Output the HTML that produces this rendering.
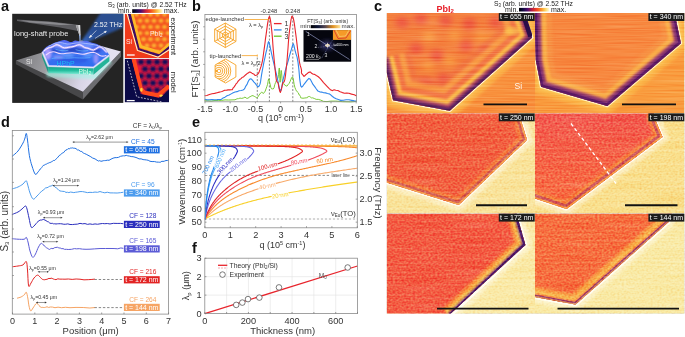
<!DOCTYPE html>
<html><head><meta charset="utf-8"><style>
html,body{margin:0;padding:0;background:#fff;width:685px;height:337px;overflow:hidden}
svg{display:block;will-change:transform;filter:blur(0.3px)}
text{font-family:"Liberation Sans", sans-serif}
</style></head><body>
<svg width="685" height="337" viewBox="0 0 685 337" font-family='"Liberation Sans", sans-serif'><defs>
<linearGradient id="cmap" x1="0" x2="1" y1="0" y2="0">
<stop offset="0" stop-color="#000004"/><stop offset="0.12" stop-color="#0c0a3c"/><stop offset="0.28" stop-color="#4c0c6c"/>
<stop offset="0.45" stop-color="#c8203c"/><stop offset="0.6" stop-color="#f44c20"/><stop offset="0.75" stop-color="#fa9a2c"/>
<stop offset="0.88" stop-color="#fcdc6c"/><stop offset="1" stop-color="#fffce0"/></linearGradient>
<linearGradient id="cmapft" x1="0" x2="1" y1="0" y2="0">
<stop offset="0" stop-color="#000000"/><stop offset="0.25" stop-color="#10183a"/><stop offset="0.5" stop-color="#5a4a50"/>
<stop offset="0.75" stop-color="#e09020"/><stop offset="1" stop-color="#ffe8a0"/></linearGradient>
<linearGradient id="beam" x1="0" y1="1" x2="1" y2="0">
<stop offset="0" stop-color="#4a8cff" stop-opacity="0.9"/><stop offset="0.35" stop-color="#2e5cb8" stop-opacity="0.75"/><stop offset="1" stop-color="#2a4f96" stop-opacity="0.9"/></linearGradient>
<linearGradient id="sitop" x1="0" y1="0" x2="1" y2="1">
<stop offset="0" stop-color="#7e7e82"/><stop offset="0.55" stop-color="#b4b4ba"/><stop offset="0.8" stop-color="#d8d4e4"/><stop offset="1" stop-color="#9a9aa2"/></linearGradient>
<linearGradient id="teal" x1="0" y1="0" x2="0" y2="1">
<stop offset="0" stop-color="#18a88a"/><stop offset="0.6" stop-color="#3cd2b0"/><stop offset="1" stop-color="#a8fce0"/></linearGradient>
<radialGradient id="dome" cx="0.5" cy="0.55" r="0.6">
<stop offset="0" stop-color="#3f78f4"/><stop offset="0.7" stop-color="#2c5ae6"/><stop offset="1" stop-color="#3a50d8"/></radialGradient>
<filter id="blur1" x="-20%" y="-20%" width="140%" height="140%"><feGaussianBlur stdDeviation="1"/></filter>
<filter id="blur05" x="-20%" y="-20%" width="140%" height="140%"><feGaussianBlur stdDeviation="0.5"/></filter>
<filter id="blur2" x="-30%" y="-30%" width="160%" height="160%"><feGaussianBlur stdDeviation="2"/></filter>
<filter id="blur3" x="-30%" y="-30%" width="160%" height="160%"><feGaussianBlur stdDeviation="3"/></filter>
<filter id="noise" x="0" y="0" width="100%" height="100%">
<feTurbulence type="fractalNoise" baseFrequency="0.9 0.35" numOctaves="2" seed="4" result="t"/>
<feColorMatrix in="t" type="matrix" values="0 0 0 0 1  0 0 0 0 0.9  0 0 0 0 0.6  0 0 0 0.9 -0.32" result="n"/>
<feComposite in="n" in2="SourceGraphic" operator="in" result="nn"/>
<feMerge><feMergeNode in="SourceGraphic"/><feMergeNode in="nn"/></feMerge>
</filter>
<filter id="texh" x="0" y="0" width="100%" height="100%" color-interpolation-filters="sRGB">
<feTurbulence type="fractalNoise" baseFrequency="0.02 0.75" numOctaves="2" seed="7" result="n"/>
<feColorMatrix in="n" type="matrix" values="0.5 0 0 0 0.25  0.5 0 0 0 0.25  0.5 0 0 0 0.25  0 0 0 0 1" result="g"/>
<feBlend in="g" in2="SourceGraphic" mode="soft-light" result="b"/>
<feComposite in="b" in2="SourceGraphic" operator="in"/>
</filter>
<filter id="texs" x="0" y="0" width="100%" height="100%" color-interpolation-filters="sRGB">
<feTurbulence type="fractalNoise" baseFrequency="0.45 0.6" numOctaves="1" seed="9" result="n"/>
<feColorMatrix in="n" type="matrix" values="0.3 0 0 0 0.35  1.1 0 0 0 -0.05  0.7 0 0 0 0.15  0 0 0 0 1" result="g"/>
<feBlend in="g" in2="SourceGraphic" mode="soft-light" result="b"/>
<feTurbulence type="fractalNoise" baseFrequency="0.02 0.5" numOctaves="1" seed="3" result="n2"/>
<feColorMatrix in="n2" type="matrix" values="0.5 0 0 0 0.25  0.5 0 0 0 0.25  0.5 0 0 0 0.25  0 0 0 0 1" result="g2"/>
<feBlend in="g2" in2="b" mode="soft-light" result="b2"/>
<feComposite in="b2" in2="SourceGraphic" operator="in"/>
</filter>
<filter id="bl6" x="-10%" y="-10%" width="120%" height="120%"><feGaussianBlur stdDeviation="0.6"/></filter>
<filter id="bl9" x="-10%" y="-10%" width="120%" height="120%"><feGaussianBlur stdDeviation="0.9"/></filter>
<filter id="bl15" x="-10%" y="-10%" width="120%" height="120%"><feGaussianBlur stdDeviation="1.5"/></filter>
<filter id="bl4" x="-30%" y="-30%" width="160%" height="160%"><feGaussianBlur stdDeviation="4"/></filter>
</defs><rect width="685" height="337" fill="#fff"/><rect x="12.20" y="13.80" width="111.10" height="89.10" fill="#242424" /><clipPath id="cpa"><rect x="12.2" y="13.8" width="111.1" height="89.1"/></clipPath><g clip-path="url(#cpa)"><linearGradient id="beamg" gradientUnits="userSpaceOnUse" x1="81" y1="43" x2="116" y2="16"><stop offset="0" stop-color="#3a70d0" stop-opacity="0.95"/><stop offset="0.35" stop-color="#2a56a8" stop-opacity="0.85"/><stop offset="1" stop-color="#2c5294" stop-opacity="0.95"/></linearGradient><polygon points="80.2,43 101.3,12 124,12 124,27.3 83.4,44" fill="url(#beamg)" filter="url(#blur1)"/><polygon points="17,19.6 50,21.5 76,24.6 79.8,25.2 78,31 60,27.4 30,23 17,21" fill="#5c5c60" filter="url(#blur05)"/><polygon points="20,20.2 50,22 74,24.8 60,25 30,22.4" fill="#8a8a8e" filter="url(#blur05)"/><polygon points="75.8,25.2 80.2,25 80.6,34.5 79.6,36" fill="#e2e2e4"/><polygon points="75.8,25.2 78.2,25.2 79.8,35.5 78.6,33" fill="#9a9a9e"/><polygon points="79.2,35 80.6,35 80.3,47.5 79.9,47.5" fill="#9cc0ff" filter="url(#blur05)"/><linearGradient id="slabg" gradientUnits="userSpaceOnUse" x1="20" y1="58" x2="95" y2="88"><stop offset="0" stop-color="#7c7c80"/><stop offset="0.45" stop-color="#a8a8ac"/><stop offset="0.8" stop-color="#d8d4e6"/><stop offset="1" stop-color="#e4e0f0"/></linearGradient><polygon points="15.9,60.5 15.9,64.2 82.9,99.4 82.9,91.7" fill="#474749"/><polygon points="82.9,91.7 82.9,99.4 120.9,56.8 120.9,51.6" fill="#6c6c70"/><polygon points="15.9,60.5 81.6,40.6 120.9,51.6 82.9,91.7" fill="url(#slabg)"/><polygon points="46,72 94,74.5 110,60 112,63 95,79 47,77" fill="#9ef8e6" opacity="0.55" filter="url(#blur1)"/><linearGradient id="tealg" gradientUnits="userSpaceOnUse" x1="0" y1="64" x2="0" y2="76"><stop offset="0" stop-color="#0e8a78"/><stop offset="0.55" stop-color="#26c0a0"/><stop offset="1" stop-color="#b0fff0"/></linearGradient><polygon points="42.2,51.6 48.4,66 48.4,73.2 42.2,57.2" fill="#1a9a86"/><polygon points="48.4,66 93.4,67.5 93.4,74.8 48.4,73.2" fill="url(#tealg)"/><polygon points="93.4,67.5 109.4,55.1 109.4,61.2 93.4,74.8" fill="#22b498"/><linearGradient id="domeg" gradientUnits="userSpaceOnUse" x1="0" y1="40" x2="0" y2="67"><stop offset="0" stop-color="#5466ee"/><stop offset="0.5" stop-color="#3f74f2"/><stop offset="1" stop-color="#2f6cf0"/></linearGradient><path d="M42.2,51.6 C44.5,47.5 48,45.5 50.7,44.7 C53,43.5 55,42 57.1,42 C60,41 62,39.8 64.6,39.9 C68,40.5 70,42.5 72,42 C73.5,41.2 74,40.4 75.3,40.4 C77.5,40.6 79,41.6 80.6,41.5 C83,41.2 85,40.8 87,41 C89.5,41.5 91.5,43 93.4,43.1 C96,43.4 98,44.6 99.8,45.8 C102,46.6 103.5,47.3 104.1,47.9 C106,50 107.5,52 109.4,55.1 L93.4,67.5 L48.4,66 Z" fill="url(#domeg)"/><clipPath id="domec"><path d="M42.2,51.6 C44.5,47.5 48,45.5 50.7,44.7 C53,43.5 55,42 57.1,42 C60,41 62,39.8 64.6,39.9 C68,40.5 70,42.5 72,42 C73.5,41.2 74,40.4 75.3,40.4 C77.5,40.6 79,41.6 80.6,41.5 C83,41.2 85,40.8 87,41 C89.5,41.5 91.5,43 93.4,43.1 C96,43.4 98,44.6 99.8,45.8 C102,46.6 103.5,47.3 104.1,47.9 C106,50 107.5,52 109.4,55.1 L93.4,67.5 L48.4,66 Z"/></clipPath><g clip-path="url(#domec)"><g filter="url(#blur1)"><ellipse cx="62" cy="46" rx="8" ry="3" fill="#7094ff" opacity="0.8"/><ellipse cx="86" cy="45.5" rx="8" ry="3" fill="#7094ff" opacity="0.8"/><ellipse cx="74" cy="50" rx="10" ry="2.2" fill="#1c34b0" opacity="0.7"/><ellipse cx="56" cy="50.5" rx="5" ry="2" fill="#1c34b0" opacity="0.6"/><ellipse cx="96" cy="50.5" rx="5" ry="2" fill="#1c34b0" opacity="0.6"/><ellipse cx="48" cy="54" rx="3.5" ry="6" fill="#d0a8ff" opacity="0.75"/><ellipse cx="96" cy="59" rx="2.5" ry="5" fill="#d0a8ff" opacity="0.6"/><ellipse cx="72" cy="60" rx="16" ry="3.5" fill="#2a58e4" opacity="0.8"/><ellipse cx="68" cy="55.5" rx="6" ry="1.8" fill="#70a8ff" opacity="0.7"/><ellipse cx="88" cy="55" rx="5" ry="1.8" fill="#70a8ff" opacity="0.7"/><ellipse cx="58" cy="57" rx="5" ry="1.6" fill="#c0a8ff" opacity="0.6"/></g><g fill="none" stroke-linecap="round" filter="url(#blur05)"><path d="M44,51 C47,48 49.5,47.4 50.7,47.4 C54,46.5 55,44.7 57.1,44.7 C60,45 62,48 64.6,47.9 C68,47.8 70,46.8 72,46.8 C75,46.5 77,44.7 79.5,44.7 C82,45 84,47.9 86,47.9 C89,48 91,50 93.4,50 C96,49.5 98,46.8 99.8,46.8 C102,47 104,49.5 106.5,52" stroke="#d8b8ff" stroke-width="2.4" opacity="0.6"/><path d="M44,51 C47,48 49.5,47.4 50.7,47.4 C54,46.5 55,44.7 57.1,44.7 C60,45 62,48 64.6,47.9 C68,47.8 70,46.8 72,46.8 C75,46.5 77,44.7 79.5,44.7 C82,45 84,47.9 86,47.9 C89,48 91,50 93.4,50 C96,49.5 98,46.8 99.8,46.8 C102,47 104,49.5 106.5,52" stroke="#fff4ff" stroke-width="1.0"/><path d="M46,55 C50,51.5 52,51.1 55,52 C58,53.2 59.5,53.8 61.4,53.8 C65,53.8 68,52.7 72,52.7 C76,52.7 79,54.3 82.7,54.3 C86,54.3 89,52.2 93.4,52.2 C96,52.5 98,54.5 99.8,55.4 C101,56 103,56.5 106,55.5" stroke="#eed8ff" stroke-width="1.1"/><path d="M49,46 C53,43.5 57,42.6 60,42.6 C63,42.6 66,44.5 70,44 C74,43.3 78,42.4 82,43 C86,43.6 91,43.8 98,45.6" stroke="#b8c8ff" stroke-width="0.8"/><path d="M52,58.5 C58,57 64,58.6 70,58 C76,57.2 82,58.8 90,57.6" stroke="#60b0ff" stroke-width="0.7"/><path d="M56,49.5 C60,50.5 64,51.5 68,50.3 M76,49.8 C80,51 84,51.5 88,50.5" stroke="#70c8ff" stroke-width="0.6"/></g></g><polyline points="42.4,51.8 48.4,66 93.4,67.5 109.2,55.3" fill="none" stroke="#e8d8ff" stroke-width="2.2" opacity="0.7" filter="url(#blur05)"/><polyline points="42.4,51.8 48.4,66 93.4,67.5 109.2,55.3" fill="none" stroke="#f8f4ff" stroke-width="0.8" opacity="0.95"/><text x="56.60" y="65.50" font-size="6.9" fill="#1eb8f4" text-anchor="start" font-weight="normal" >HPhP</text><text x="78.60" y="73.80" font-size="6.7" fill="#d8ffea" text-anchor="start" font-weight="normal" >PbI<tspan font-size="4.5" dy="1">2</tspan></text><text x="26.00" y="63.90" font-size="6.8" fill="#e8e8e8" text-anchor="start" font-weight="normal" >Si</text><text x="14.10" y="36.40" font-size="7.5" fill="#ececec" text-anchor="start" font-weight="normal" >long-shaft probe</text><text x="94.00" y="26.80" font-size="7" fill="#f4f4f4" text-anchor="start" font-weight="normal" >2.52 THz</text><g stroke="#f2f2f2" stroke-width="0.6" fill="#f2f2f2"><line x1="96.3" y1="30.5" x2="90" y2="37"/><polygon points="89.2,37.8 90.6,35.2 91.8,36.4"/><line x1="95" y1="38.4" x2="105.6" y2="31.6"/><polygon points="106.4,31.1 104.2,31.7 105.2,33"/></g></g><clipPath id="cpa1"><rect x="124.6" y="14.0" width="44.4" height="44.3"/></clipPath><clipPath id="cpa1f"><polygon points="127.5,14 138.2,50 158,56.6 169,49 169,14"/></clipPath><g clip-path="url(#cpa1)"><rect x="124.60" y="14.00" width="44.40" height="44.30" fill="#f03a1a" /><g clip-path="url(#cpa1f)"><rect x="124.60" y="14.00" width="44.40" height="44.30" fill="#f2481e" /><g fill="#fcb431" filter="url(#blur1)"><ellipse cx="129.5" cy="14.5" rx="2.6" ry="2.2"/><ellipse cx="136.5" cy="14.5" rx="2.6" ry="2.2"/><ellipse cx="143.5" cy="14.5" rx="2.6" ry="2.2"/><ellipse cx="150.5" cy="14.5" rx="2.6" ry="2.2"/><ellipse cx="157.5" cy="14.5" rx="2.6" ry="2.2"/><ellipse cx="164.5" cy="14.5" rx="2.6" ry="2.2"/><ellipse cx="171.5" cy="14.5" rx="2.6" ry="2.2"/><ellipse cx="133.0" cy="20.7" rx="2.6" ry="2.2"/><ellipse cx="140.0" cy="20.7" rx="2.6" ry="2.2"/><ellipse cx="147.0" cy="20.7" rx="2.6" ry="2.2"/><ellipse cx="154.0" cy="20.7" rx="2.6" ry="2.2"/><ellipse cx="161.0" cy="20.7" rx="2.6" ry="2.2"/><ellipse cx="168.0" cy="20.7" rx="2.6" ry="2.2"/><ellipse cx="175.0" cy="20.7" rx="2.6" ry="2.2"/><ellipse cx="129.5" cy="26.9" rx="2.6" ry="2.2"/><ellipse cx="136.5" cy="26.9" rx="2.6" ry="2.2"/><ellipse cx="143.5" cy="26.9" rx="2.6" ry="2.2"/><ellipse cx="150.5" cy="26.9" rx="2.6" ry="2.2"/><ellipse cx="157.5" cy="26.9" rx="2.6" ry="2.2"/><ellipse cx="164.5" cy="26.9" rx="2.6" ry="2.2"/><ellipse cx="171.5" cy="26.9" rx="2.6" ry="2.2"/><ellipse cx="133.0" cy="33.1" rx="2.6" ry="2.2"/><ellipse cx="140.0" cy="33.1" rx="2.6" ry="2.2"/><ellipse cx="147.0" cy="33.1" rx="2.6" ry="2.2"/><ellipse cx="154.0" cy="33.1" rx="2.6" ry="2.2"/><ellipse cx="161.0" cy="33.1" rx="2.6" ry="2.2"/><ellipse cx="168.0" cy="33.1" rx="2.6" ry="2.2"/><ellipse cx="175.0" cy="33.1" rx="2.6" ry="2.2"/><ellipse cx="129.5" cy="39.3" rx="2.6" ry="2.2"/><ellipse cx="136.5" cy="39.3" rx="2.6" ry="2.2"/><ellipse cx="143.5" cy="39.3" rx="2.6" ry="2.2"/><ellipse cx="150.5" cy="39.3" rx="2.6" ry="2.2"/><ellipse cx="157.5" cy="39.3" rx="2.6" ry="2.2"/><ellipse cx="164.5" cy="39.3" rx="2.6" ry="2.2"/><ellipse cx="171.5" cy="39.3" rx="2.6" ry="2.2"/><ellipse cx="133.0" cy="45.5" rx="2.6" ry="2.2"/><ellipse cx="140.0" cy="45.5" rx="2.6" ry="2.2"/><ellipse cx="147.0" cy="45.5" rx="2.6" ry="2.2"/><ellipse cx="154.0" cy="45.5" rx="2.6" ry="2.2"/><ellipse cx="161.0" cy="45.5" rx="2.6" ry="2.2"/><ellipse cx="168.0" cy="45.5" rx="2.6" ry="2.2"/><ellipse cx="175.0" cy="45.5" rx="2.6" ry="2.2"/><ellipse cx="129.5" cy="51.7" rx="2.6" ry="2.2"/><ellipse cx="136.5" cy="51.7" rx="2.6" ry="2.2"/><ellipse cx="143.5" cy="51.7" rx="2.6" ry="2.2"/><ellipse cx="150.5" cy="51.7" rx="2.6" ry="2.2"/><ellipse cx="157.5" cy="51.7" rx="2.6" ry="2.2"/><ellipse cx="164.5" cy="51.7" rx="2.6" ry="2.2"/><ellipse cx="171.5" cy="51.7" rx="2.6" ry="2.2"/></g><polyline points="131.5,12 140.3,46.4 160,52.5 170,44" fill="none" stroke="#fcb828" stroke-width="3" filter="url(#blur05)"/><polyline points="128.8,12 138.4,49.6 159.5,55.8 170,47" fill="none" stroke="#3c0c62" stroke-width="2.8" filter="url(#blur05)"/></g><polyline points="126.6,12 137.4,50.4 158,57.2 170,49.3" fill="none" stroke="#fff6c8" stroke-width="1.1"/></g><text x="125.90" y="44.30" font-size="6.8" fill="#ffeae4" text-anchor="start" font-weight="normal" >Si</text><text x="149.90" y="36.20" font-size="6.8" fill="#ffeae4" text-anchor="start" font-weight="normal" >PbI<tspan font-size="4.5" dy="1">2</tspan></text><line x1="126.90" y1="55.00" x2="134.70" y2="55.00" stroke="#fff" stroke-width="1.3" /><clipPath id="cpa2"><rect x="124.6" y="58.8" width="44.4" height="43.6"/></clipPath><clipPath id="cpa2f"><polygon points="131.5,58.8 140.7,94.1 160.1,98.1 169,89.5 169,58.8"/></clipPath><g clip-path="url(#cpa2)"><rect x="124.60" y="58.80" width="44.40" height="43.60" fill="#0b0a48" /><g clip-path="url(#cpa2f)"><rect x="124.60" y="58.80" width="44.40" height="43.60" fill="#e4183e" /><g fill="#10105a" filter="url(#blur1)"><ellipse cx="141.0" cy="62.0" rx="3.1" ry="2.8"/><ellipse cx="149.0" cy="62.0" rx="3.1" ry="2.8"/><ellipse cx="157.0" cy="62.0" rx="3.1" ry="2.8"/><ellipse cx="165.0" cy="62.0" rx="3.1" ry="2.8"/><ellipse cx="173.0" cy="62.0" rx="3.1" ry="2.8"/><ellipse cx="145.0" cy="69.0" rx="3.1" ry="2.8"/><ellipse cx="153.0" cy="69.0" rx="3.1" ry="2.8"/><ellipse cx="161.0" cy="69.0" rx="3.1" ry="2.8"/><ellipse cx="169.0" cy="69.0" rx="3.1" ry="2.8"/><ellipse cx="177.0" cy="69.0" rx="3.1" ry="2.8"/><ellipse cx="141.0" cy="76.0" rx="3.1" ry="2.8"/><ellipse cx="149.0" cy="76.0" rx="3.1" ry="2.8"/><ellipse cx="157.0" cy="76.0" rx="3.1" ry="2.8"/><ellipse cx="165.0" cy="76.0" rx="3.1" ry="2.8"/><ellipse cx="173.0" cy="76.0" rx="3.1" ry="2.8"/><ellipse cx="145.0" cy="83.0" rx="3.1" ry="2.8"/><ellipse cx="153.0" cy="83.0" rx="3.1" ry="2.8"/><ellipse cx="161.0" cy="83.0" rx="3.1" ry="2.8"/><ellipse cx="169.0" cy="83.0" rx="3.1" ry="2.8"/><ellipse cx="177.0" cy="83.0" rx="3.1" ry="2.8"/><ellipse cx="141.0" cy="90.0" rx="3.1" ry="2.8"/><ellipse cx="149.0" cy="90.0" rx="3.1" ry="2.8"/><ellipse cx="157.0" cy="90.0" rx="3.1" ry="2.8"/><ellipse cx="165.0" cy="90.0" rx="3.1" ry="2.8"/><ellipse cx="173.0" cy="90.0" rx="3.1" ry="2.8"/><ellipse cx="145.0" cy="97.0" rx="3.1" ry="2.8"/><ellipse cx="153.0" cy="97.0" rx="3.1" ry="2.8"/><ellipse cx="161.0" cy="97.0" rx="3.1" ry="2.8"/><ellipse cx="169.0" cy="97.0" rx="3.1" ry="2.8"/><ellipse cx="177.0" cy="97.0" rx="3.1" ry="2.8"/></g><polyline points="133,57 140.5,88 144,92.5 158,95.5 169,86" fill="none" stroke="#ff4a1c" stroke-width="4.2" filter="url(#blur05)"/><g fill="#ffd040" filter="url(#blur05)"><ellipse cx="141.4" cy="89.8" rx="1.3" ry="2"/><ellipse cx="161.4" cy="95.8" rx="2" ry="1.2"/></g></g><polyline points="127.3,60.7 136.7,96.8 162.8,102.1" fill="none" stroke="#fff" stroke-width="0.7" stroke-dasharray="1.8,1.4"/></g><line x1="126.70" y1="100.60" x2="134.70" y2="100.60" stroke="#fff" stroke-width="1.3" /><text x="0.00" y="0.00" font-size="7.6" fill="#222" text-anchor="middle" font-weight="normal" transform="translate(171.0,36.4) rotate(90)">experiment</text><text x="0.00" y="0.00" font-size="7.7" fill="#222" text-anchor="middle" font-weight="normal" transform="translate(171.0,82.2) rotate(90)">model</text><text x="107.70" y="6.60" font-size="7" fill="#222" text-anchor="start" font-weight="normal" textLength="79" lengthAdjust="spacingAndGlyphs">S<tspan font-size="4.5" dy="1">3</tspan><tspan dy="-1"> (arb. units) @ 2.52 THz</tspan></text><text x="118.00" y="12.70" font-size="7" fill="#222" text-anchor="start" font-weight="normal" >min.</text><rect x="132.20" y="9.20" width="30.50" height="3.70" fill="url(#cmap)" /><text x="164.00" y="12.70" font-size="7" fill="#222" text-anchor="start" font-weight="normal" >max.</text><line x1="203.20" y1="26.80" x2="204.90" y2="26.80" stroke="#777" stroke-width="0.7" /><line x1="203.20" y1="39.20" x2="204.90" y2="39.20" stroke="#777" stroke-width="0.7" /><line x1="203.20" y1="51.80" x2="204.90" y2="51.80" stroke="#777" stroke-width="0.7" /><line x1="203.20" y1="64.40" x2="204.90" y2="64.40" stroke="#777" stroke-width="0.7" /><line x1="203.20" y1="77.20" x2="204.90" y2="77.20" stroke="#777" stroke-width="0.7" /><line x1="203.20" y1="89.80" x2="204.90" y2="89.80" stroke="#777" stroke-width="0.7" /><line x1="205.00" y1="101.80" x2="205.00" y2="103.40" stroke="#777" stroke-width="0.7" /><text x="205.00" y="112.40" font-size="9" fill="#333" text-anchor="middle" font-weight="normal" >-1.5</text><line x1="230.20" y1="101.80" x2="230.20" y2="103.40" stroke="#777" stroke-width="0.7" /><text x="230.20" y="112.40" font-size="9" fill="#333" text-anchor="middle" font-weight="normal" >-1.0</text><line x1="255.40" y1="101.80" x2="255.40" y2="103.40" stroke="#777" stroke-width="0.7" /><text x="255.40" y="112.40" font-size="9" fill="#333" text-anchor="middle" font-weight="normal" >-0.5</text><line x1="280.60" y1="101.80" x2="280.60" y2="103.40" stroke="#777" stroke-width="0.7" /><text x="280.60" y="112.40" font-size="9" fill="#333" text-anchor="middle" font-weight="normal" >0</text><line x1="305.80" y1="101.80" x2="305.80" y2="103.40" stroke="#777" stroke-width="0.7" /><text x="305.80" y="112.40" font-size="9" fill="#333" text-anchor="middle" font-weight="normal" >0.5</text><line x1="331.00" y1="101.80" x2="331.00" y2="103.40" stroke="#777" stroke-width="0.7" /><text x="331.00" y="112.40" font-size="9" fill="#333" text-anchor="middle" font-weight="normal" >1.0</text><line x1="356.20" y1="101.80" x2="356.20" y2="103.40" stroke="#777" stroke-width="0.7" /><text x="356.20" y="112.40" font-size="9" fill="#333" text-anchor="middle" font-weight="normal" >1.5</text><line x1="269.40" y1="14.40" x2="269.40" y2="15.90" stroke="#777" stroke-width="0.7" /><line x1="292.80" y1="14.40" x2="292.80" y2="15.90" stroke="#777" stroke-width="0.7" /><text x="280.90" y="121.20" font-size="9" fill="#333" text-anchor="middle" font-weight="normal" >q (10<tspan font-size="5.5" dy="-3">5</tspan><tspan dy="3"> cm</tspan><tspan font-size="5.5" dy="-3">-1</tspan><tspan dy="3">)</tspan></text><text x="0.00" y="0.00" font-size="9.8" fill="#333" text-anchor="middle" font-weight="normal" transform="translate(198.0,59.0) rotate(-90)">FT[S<tspan font-size="6" dy="1.5">3</tspan><tspan dy="-1.5">] (arb. units)</tspan></text><text x="268.90" y="12.90" font-size="5.9" fill="#333" text-anchor="middle" font-weight="normal" >-0.248</text><text x="292.80" y="12.90" font-size="5.9" fill="#333" text-anchor="middle" font-weight="normal" >0.248</text><line x1="257.30" y1="57.50" x2="257.30" y2="101.80" stroke="#555" stroke-width="0.7" stroke-dasharray="2,1.6"/><line x1="269.40" y1="17.00" x2="269.40" y2="101.80" stroke="#555" stroke-width="0.7" stroke-dasharray="2,1.6"/><line x1="292.80" y1="17.00" x2="292.80" y2="101.80" stroke="#555" stroke-width="0.7" stroke-dasharray="2,1.6"/><polyline points="205.00,100.75 207.59,100.78 211.30,101.04 215.00,100.47 218.33,100.42 221.67,100.42 225.00,99.88 228.52,100.02 232.04,99.90 235.00,99.79 237.04,98.78 238.52,98.65 240.00,98.09 241.74,98.42 243.48,97.92 245.00,97.04 246.19,98.10 247.15,98.36 248.00,98.15 248.70,97.86 249.30,96.97 250.00,96.42 250.90,96.51 251.90,95.64 253.00,95.69 254.27,96.35 255.62,97.05 256.80,97.86 257.64,97.23 258.30,96.49 259.00,95.02 259.88,94.03 260.81,92.78 261.60,92.26 262.13,92.19 262.52,92.56 263.00,93.50 263.67,93.18 264.42,92.37 265.20,91.11 266.03,88.87 266.89,86.46 267.60,84.29 268.03,81.64 268.31,80.00 268.70,78.80 269.31,81.11 270.04,84.03 270.80,87.36 271.58,88.82 272.39,88.93 273.20,89.01 274.00,87.87 274.80,84.52 275.60,82.48 276.44,80.53 277.28,79.20 278.00,78.13 278.53,74.63 278.94,69.86 279.30,67.99 279.59,71.97 279.83,78.91 280.10,82.26 280.44,78.89 280.81,73.54 281.20,70.40 281.60,72.76 282.01,78.38 282.50,81.68 283.07,83.57 283.70,84.00 284.40,84.19 285.17,85.54 286.00,85.65 286.90,86.24 287.91,84.82 288.99,83.60 290.00,81.71 290.88,79.42 291.70,77.62 292.50,76.80 293.31,79.07 294.10,84.27 294.90,87.41 295.69,89.46 296.48,90.99 297.30,91.84 298.22,92.69 299.18,94.97 300.00,95.41 300.46,96.50 300.79,97.88 301.50,98.03 302.99,98.24 304.85,97.99 306.40,97.79 307.28,97.75 307.85,96.68 308.50,96.60 309.30,96.45 310.19,96.91 311.30,97.86 312.69,97.85 314.30,98.49 316.20,99.37 318.30,99.38 320.69,100.09 323.60,101.41 327.01,101.58 330.95,101.11 335.80,101.09 342.75,101.67 350.61,101.86 356.20,101.40" fill="none" stroke="#6cc424" stroke-width="0.9" stroke-linejoin="round" stroke-linecap="round" /><polyline points="205.00,99.29 206.80,99.84 209.39,99.82 212.00,99.67 214.47,99.72 216.97,99.67 219.30,99.48 221.30,99.43 223.12,97.89 225.00,97.14 227.04,95.76 229.14,95.04 231.20,93.87 233.16,92.79 235.07,91.95 237.00,91.65 239.10,90.73 241.21,90.47 243.00,90.04 244.22,89.16 245.11,87.62 246.00,85.85 247.04,84.39 248.09,81.81 249.00,80.06 249.64,79.30 250.14,78.95 250.80,78.69 251.74,79.40 252.84,80.65 254.00,82.05 255.25,83.32 256.55,85.21 257.70,86.57 258.60,86.61 259.34,85.62 260.00,84.13 260.56,81.70 261.04,78.29 261.60,74.67 262.29,70.62 263.06,66.76 263.90,62.14 264.90,57.81 265.97,52.65 266.90,49.20 267.55,45.67 268.06,43.03 268.60,41.57 269.21,43.22 269.86,45.38 270.60,49.13 271.47,53.07 272.44,57.60 273.50,62.17 274.69,67.13 275.97,72.44 277.20,77.59 278.30,82.86 279.35,88.57 280.40,91.18 281.50,88.48 282.59,82.46 283.60,77.50 284.46,74.09 285.23,70.90 286.00,68.09 286.78,65.26 287.56,62.89 288.40,60.08 289.40,56.08 290.46,52.52 291.40,49.45 292.12,46.77 292.71,44.70 293.30,43.82 293.87,45.24 294.42,47.63 295.10,50.56 295.99,53.83 297.01,56.81 298.00,62.18 298.89,69.66 299.76,79.43 300.70,85.89 301.70,87.22 302.76,86.22 304.00,84.30 305.54,82.36 307.27,80.10 308.90,78.43 310.30,79.28 311.60,81.78 313.00,84.42 314.54,86.38 316.18,88.73 317.90,91.08 319.74,91.84 321.67,92.08 323.60,92.77 325.53,92.86 327.46,93.56 329.30,93.89 330.93,95.04 332.48,96.48 334.20,97.69 336.19,98.79 338.35,99.52 340.70,100.36 343.34,100.19 346.17,99.71 348.90,99.80 351.67,100.35 354.34,100.87 356.20,101.00" fill="none" stroke="#2f86ec" stroke-width="1.1" stroke-linejoin="round" stroke-linecap="round" /><polyline points="205.00,95.75 206.80,95.50 209.39,94.44 212.00,93.77 214.54,93.39 217.12,92.68 219.30,92.10 220.80,91.77 221.90,91.50 223.00,91.00 224.20,90.41 225.41,90.32 226.70,90.14 228.20,89.88 229.80,89.90 231.20,89.77 232.25,89.63 233.11,87.93 234.00,87.15 234.98,85.66 236.00,83.95 237.10,82.80 238.36,80.85 239.70,79.56 241.00,78.57 242.19,77.31 243.33,77.08 244.50,75.82 245.79,74.71 247.10,73.56 248.20,73.09 248.90,72.36 249.38,72.09 250.00,72.01 250.92,72.43 251.97,73.14 253.00,73.63 253.94,74.17 254.87,75.30 255.80,75.48 256.80,74.84 257.81,74.08 258.70,72.95 259.38,71.20 259.93,69.67 260.50,67.89 261.13,66.19 261.76,63.87 262.40,61.08 263.04,57.32 263.67,52.53 264.30,48.20 264.90,43.76 265.49,38.58 266.10,34.60 266.78,29.63 267.48,24.43 268.10,20.87 268.59,18.53 269.00,17.27 269.40,16.41 269.80,17.03 270.18,18.71 270.60,21.11 271.09,24.93 271.61,29.30 272.10,34.41 272.52,39.22 272.90,44.96 273.30,50.22 273.71,54.82 274.13,59.40 274.60,63.80 275.17,69.95 275.80,75.90 276.40,80.33 276.92,81.71 277.41,82.13 278.00,82.77 278.74,86.60 279.57,90.72 280.40,92.39 281.21,90.18 282.03,86.27 282.80,82.94 283.49,82.18 284.14,81.83 284.80,79.67 285.53,75.19 286.27,67.96 286.90,62.21 287.34,56.80 287.67,52.38 288.00,48.20 288.36,43.03 288.72,38.36 289.10,34.31 289.53,30.62 289.98,27.23 290.40,24.13 290.76,21.79 291.08,19.42 291.40,18.21 291.71,16.58 292.03,16.17 292.40,16.52 292.85,17.06 293.35,18.71 293.90,21.00 294.51,24.70 295.17,29.72 295.80,34.34 296.37,38.70 296.92,43.32 297.50,48.24 298.14,53.15 298.82,57.56 299.50,62.25 300.24,65.63 300.98,67.95 301.50,70.05 301.56,71.12 301.39,72.13 301.50,72.90 302.15,74.21 303.07,75.08 304.00,76.43 304.81,75.80 305.61,74.82 306.50,74.21 307.55,73.24 308.67,72.40 309.70,72.13 310.52,71.96 311.24,72.93 312.00,73.44 312.73,74.08 313.49,74.25 314.60,74.34 316.30,75.56 318.34,76.74 320.30,78.55 321.96,80.60 323.54,82.62 325.20,84.28 327.07,86.28 329.03,88.31 330.90,90.08 332.53,90.62 334.07,89.74 335.80,90.20 337.88,90.48 340.14,91.72 342.40,92.61 344.54,93.20 346.68,92.95 348.90,93.20 351.54,94.13 354.28,94.73 356.20,95.70" fill="none" stroke="#e8242c" stroke-width="1.1" stroke-linejoin="round" stroke-linecap="round" /><rect x="204.9" y="14.4" width="151.70" height="87.40" fill="none" stroke="#8a8a8a" stroke-width="0.8"/><line x1="273.90" y1="23.60" x2="281.60" y2="23.60" stroke="#e8242c" stroke-width="1.3" /><text x="284.60" y="26.20" font-size="7.2" fill="#333" text-anchor="start" font-weight="normal" >1</text><line x1="273.90" y1="29.90" x2="281.60" y2="29.90" stroke="#2f86ec" stroke-width="1.3" /><text x="284.60" y="32.50" font-size="7.2" fill="#333" text-anchor="start" font-weight="normal" >2</text><line x1="273.90" y1="36.20" x2="281.60" y2="36.20" stroke="#6cc424" stroke-width="1.3" /><text x="284.60" y="38.80" font-size="7.2" fill="#333" text-anchor="start" font-weight="normal" >3</text><text x="205.60" y="21.40" font-size="5.8" fill="#333" text-anchor="start" font-weight="normal" >edge-launched</text><line x1="244.60" y1="19.50" x2="269.40" y2="19.50" stroke="#f6a224" stroke-width="0.8" /><text x="248.90" y="27.00" font-size="5.7" fill="#333" text-anchor="start" font-weight="normal" >λ = λ<tspan font-size="4" dy="1">p</tspan></text><text x="209.60" y="57.60" font-size="5.8" fill="#333" text-anchor="start" font-weight="normal" >tip-launched</text><line x1="241.60" y1="55.60" x2="257.30" y2="55.60" stroke="#f6a224" stroke-width="0.8" /><line x1="257.30" y1="54.50" x2="257.30" y2="56.70" stroke="#f6a224" stroke-width="0.8" /><text x="241.40" y="64.80" font-size="5.7" fill="#333" text-anchor="start" font-weight="normal" >λ = λ<tspan font-size="4" dy="1">p</tspan><tspan dy="-1">/2</tspan></text><g fill="none" stroke="#f6a224" stroke-width="0.9"><polygon points="225.30,23.00 235.95,29.15 235.95,41.45 225.30,47.60 214.65,41.45 214.65,29.15"/><polygon points="225.30,26.00 233.35,30.65 233.35,39.95 225.30,44.60 217.25,39.95 217.25,30.65"/><polygon points="225.30,29.00 230.76,32.15 230.76,38.45 225.30,41.60 219.84,38.45 219.84,32.15"/><polygon points="225.30,32.00 228.16,33.65 228.16,36.95 225.30,38.60 222.44,36.95 222.44,33.65"/><line x1="225.3" y1="35.3" x2="225.30" y2="23.00"/><line x1="225.3" y1="35.3" x2="235.95" y2="29.15"/><line x1="225.3" y1="35.3" x2="235.95" y2="41.45"/><line x1="225.3" y1="35.3" x2="225.30" y2="47.60"/><line x1="225.3" y1="35.3" x2="214.65" y2="41.45"/><line x1="225.3" y1="35.3" x2="214.65" y2="29.15"/><polygon points="225.50,59.00 235.89,65.00 235.89,77.00 225.50,83.00 215.11,77.00 215.11,65.00"/><clipPath id="hx2"><polygon points="225.50,59.00 235.89,65.00 235.89,77.00 225.50,83.00 215.11,77.00 215.11,65.00"/></clipPath><g clip-path="url(#hx2)"><circle cx="219.0" cy="71.0" r="1.8"/><circle cx="219.0" cy="71.0" r="3.8"/><circle cx="219.0" cy="71.0" r="5.8"/><circle cx="219.0" cy="71.0" r="7.8"/><circle cx="219.0" cy="71.0" r="9.8"/><circle cx="219.0" cy="71.0" r="11.8"/></g></g><circle cx="216.6" cy="71.0" r="1.1" fill="#f6a224"/><text x="307.20" y="23.30" font-size="5.6" fill="#333" text-anchor="start" font-weight="normal" textLength="41" lengthAdjust="spacingAndGlyphs">FT[S<tspan font-size="4" dy="1">3</tspan><tspan dy="-1">] (arb. units)</tspan></text><text x="300.20" y="28.30" font-size="6.2" fill="#333" text-anchor="start" font-weight="normal" >min.</text><rect x="310.70" y="25.10" width="29.70" height="3.10" fill="url(#cmapft)" /><text x="341.60" y="28.30" font-size="6.2" fill="#333" text-anchor="start" font-weight="normal" >max.</text><rect x="303.50" y="30.10" width="47.60" height="31.60" fill="#05060e" /><g clip-path="url(#cpbin)"><clipPath id="cpbin"><rect x="303.5" y="30.1" width="47.6" height="31.6"/></clipPath></g><g clip-path="url(#cpbin)"><ellipse cx="327" cy="45.5" rx="7" ry="5" fill="#2a2a5a" filter="url(#blur2)"/><ellipse cx="327.5" cy="45.3" rx="2.2" ry="1.6" fill="#f0d080" filter="url(#blur05)"/><path d="M325,45.3 L330,45.3 M327.5,42.8 L327.5,47.8" stroke="#fff" stroke-width="0.6"/><line x1="305.70" y1="31.40" x2="349.50" y2="59.50" stroke="#a8b0e0" stroke-width="0.6" /><line x1="321.70" y1="58.10" x2="332.40" y2="40.20" stroke="#8088c0" stroke-width="0.5" stroke-dasharray="1,0.8"/><line x1="318.20" y1="47.40" x2="345.00" y2="44.50" stroke="#c0c0e0" stroke-width="0.4" stroke-dasharray="0.8,0.8"/><rect x="332.90" y="30.10" width="18.20" height="9.80" fill="#f59a28" /><polyline points="334,30.1 338,38.5 346,38 350.5,31" fill="none" stroke="#d02030" stroke-width="0.7"/><polyline points="336,30.1 339.5,36.5 345.5,36 349,30.1" fill="none" stroke="#f8e0a0" stroke-width="0.5"/></g><text x="307.00" y="36.20" font-size="4.8" fill="#ddd" text-anchor="start" font-weight="normal" >1</text><text x="314.50" y="48.30" font-size="5.2" fill="#ddd" text-anchor="start" font-weight="normal" >2</text><text x="324.60" y="56.90" font-size="5.2" fill="#ddd" text-anchor="start" font-weight="normal" >3</text><text x="333.50" y="46.30" font-size="3.6" fill="#eee" text-anchor="start" font-weight="normal" >t=655 nm</text><text x="306.00" y="57.70" font-size="5.2" fill="#eee" text-anchor="start" font-weight="normal" >200 <tspan font-style="italic">k</tspan><tspan font-size="3" dy="0.8">0</tspan></text><line x1="306.00" y1="59.40" x2="319.00" y2="59.40" stroke="#eee" stroke-width="0.5" /><linearGradient id="c4g" gradientUnits="userSpaceOnUse" x1="0" y1="113" x2="0" y2="210"><stop offset="0" stop-color="#f25a50"/><stop offset="0.5" stop-color="#f56446"/><stop offset="1" stop-color="#f87444"/></linearGradient><clipPath id="cpc1"><rect x="386.6" y="13.0" width="148.39999999999998" height="100.3"/></clipPath><clipPath id="fpc1"><polygon points="386.60,13.00 523.90,13.00 525.30,19.00 532.10,37.50 449.70,110.80 393.10,100.20 386.60,72.00 386.60,13.00"/></clipPath><g clip-path="url(#cpc1)"><g filter="url(#texh)"><rect x="386.60" y="13.00" width="148.40" height="100.30" fill="#f8923e" /><polyline points="523.90,10.00 525.30,19.00 532.10,37.50 449.70,110.80 393.10,100.20 386.00,70.00 383.00,58.00" fill="none" stroke="#fbbc4c" stroke-width="16" opacity="0.7" stroke-linejoin="round" filter="url(#bl15)"/><polyline points="523.90,10.00 525.30,19.00 532.10,37.50 449.70,110.80 393.10,100.20 386.00,70.00 383.00,58.00" fill="none" stroke="#fcc458" stroke-width="7" opacity="0.8" stroke-linejoin="round" filter="url(#bl9)"/><polyline points="523.90,10.00 525.30,19.00 532.10,37.50 449.70,110.80 393.10,100.20 386.00,70.00 383.00,58.00" fill="none" stroke="#fff8d8" stroke-width="2.6" opacity="1" stroke-linejoin="round" filter="url(#bl6)"/><polygon points="386.60,13.00 523.90,13.00 525.30,19.00 532.10,37.50 449.70,110.80 393.10,100.20 386.60,72.00 386.60,13.00" fill="#f4823f"/><g clip-path="url(#fpc1)"><g filter="url(#blur3)"><ellipse cx="402.2" cy="22.5" rx="7" ry="5.5" fill="#ec5046" opacity="0.85"/><ellipse cx="420.6" cy="18.9" rx="7" ry="5.5" fill="#ec5046" opacity="0.85"/><ellipse cx="445.5" cy="20.8" rx="7" ry="5.5" fill="#ec5046" opacity="0.85"/><ellipse cx="469.1" cy="23.9" rx="7" ry="5.5" fill="#ec5046" opacity="0.85"/><ellipse cx="495.9" cy="22.3" rx="7" ry="5.5" fill="#ec5046" opacity="0.85"/><ellipse cx="436.8" cy="55.2" rx="7" ry="5.5" fill="#ec5046" opacity="0.85"/><ellipse cx="415.9" cy="48.5" rx="7" ry="5.5" fill="#ec5046" opacity="0.85"/><ellipse cx="466.1" cy="46.1" rx="7" ry="5.5" fill="#ec5046" opacity="0.85"/><ellipse cx="487.0" cy="49.4" rx="7" ry="5.5" fill="#ec5046" opacity="0.85"/><ellipse cx="443.6" cy="78.8" rx="7" ry="5.5" fill="#ec5046" opacity="0.85"/><ellipse cx="470.5" cy="73.3" rx="7" ry="5.5" fill="#ec5046" opacity="0.85"/><ellipse cx="425.6" cy="83.3" rx="7" ry="5.5" fill="#ec5046" opacity="0.85"/><ellipse cx="455.2" cy="94.3" rx="7" ry="5.5" fill="#ec5046" opacity="0.85"/><ellipse cx="429.0" cy="36.7" rx="6" ry="4.5" fill="#f9a444" opacity="0.85"/><ellipse cx="454.4" cy="35.4" rx="6" ry="4.5" fill="#f9a444" opacity="0.85"/><ellipse cx="481.0" cy="36.7" rx="6" ry="4.5" fill="#f9a444" opacity="0.85"/><ellipse cx="449.6" cy="60.9" rx="6" ry="4.5" fill="#f9a444" opacity="0.85"/><ellipse cx="428.1" cy="66.4" rx="6" ry="4.5" fill="#f9a444" opacity="0.85"/><ellipse cx="475.4" cy="62.9" rx="6" ry="4.5" fill="#f9a444" opacity="0.85"/><ellipse cx="492.4" cy="38.9" rx="6" ry="4.5" fill="#f9a444" opacity="0.85"/></g><polyline points="523.90,10.00 525.30,19.00 532.10,37.50 449.70,110.80 393.10,100.20 386.00,70.00 383.00,58.00" fill="none" stroke="#ef6e46" stroke-width="56" opacity="0.5" stroke-linejoin="miter" filter="url(#bl15)"/><polyline points="523.90,10.00 525.30,19.00 532.10,37.50 449.70,110.80 393.10,100.20 386.00,70.00 383.00,58.00" fill="none" stroke="#f9a84a" stroke-width="44" opacity="0.75" stroke-linejoin="miter" filter="url(#bl15)"/><polyline points="523.90,10.00 525.30,19.00 532.10,37.50 449.70,110.80 393.10,100.20 386.00,70.00 383.00,58.00" fill="none" stroke="#f06846" stroke-width="32" opacity="0.7" stroke-linejoin="miter" filter="url(#bl9)"/><polyline points="523.90,10.00 525.30,19.00 532.10,37.50 449.70,110.80 393.10,100.20 386.00,70.00 383.00,58.00" fill="none" stroke="#fbbc4c" stroke-width="21" opacity="1" stroke-linejoin="miter" filter="url(#bl9)"/><polyline points="523.90,10.00 525.30,19.00 532.10,37.50 449.70,110.80 393.10,100.20 386.00,70.00 383.00,58.00" fill="none" stroke="#a8386a" stroke-width="12" opacity="0.85" stroke-linejoin="miter" filter="url(#bl9)"/><polyline points="523.90,10.00 525.30,19.00 532.10,37.50 449.70,110.80 393.10,100.20 386.00,70.00 383.00,58.00" fill="none" stroke="#44125e" stroke-width="6" opacity="0.85" stroke-linejoin="miter" filter="url(#bl9)"/></g></g><polyline points="522.5,12 525,20 530.5,36.5" fill="none" stroke="#2a0a4a" stroke-width="4.5" filter="url(#bl6)"/><ellipse cx="512" cy="31" rx="8" ry="4" fill="#fcd454" opacity="0.6" filter="url(#bl15)"/></g><line x1="483.50" y1="104.40" x2="527.00" y2="104.40" stroke="#111" stroke-width="1.9" /><rect x="498.80" y="13.10" width="35.90" height="7.90" fill="#1c1c1c" /><text x="516.75" y="19.30" font-size="7" fill="#fff" text-anchor="middle" font-weight="normal" >t = 655 nm</text><clipPath id="cpc2"><rect x="535.0" y="13.0" width="149.60000000000002" height="100.3"/></clipPath><clipPath id="fpc2"><polygon points="534.60,13.00 674.50,13.00 680.90,43.20 607.30,106.00 541.10,86.70 535.80,60.00"/></clipPath><g clip-path="url(#cpc2)"><g filter="url(#texh)"><rect x="535.00" y="13.00" width="149.60" height="100.30" fill="#f99c3e" /><polyline points="674.50,11.00 680.90,43.20 607.30,106.00 541.10,86.70 535.80,60.00 534.60,10.00" fill="none" stroke="#fbbc4c" stroke-width="16" opacity="0.7" stroke-linejoin="round" filter="url(#bl15)"/><polyline points="674.50,11.00 680.90,43.20 607.30,106.00 541.10,86.70 535.80,60.00 534.60,10.00" fill="none" stroke="#fcc858" stroke-width="7" opacity="0.8" stroke-linejoin="round" filter="url(#bl9)"/><polyline points="674.50,11.00 680.90,43.20 607.30,106.00 541.10,86.70 535.80,60.00 534.60,10.00" fill="none" stroke="#fff4c4" stroke-width="2.6" opacity="1" stroke-linejoin="round" filter="url(#bl6)"/><polygon points="534.60,13.00 674.50,13.00 680.90,43.20 607.30,106.00 541.10,86.70 535.80,60.00" fill="#f7883f"/><g clip-path="url(#fpc2)"><polyline points="674.50,11.00 680.90,43.20 607.30,106.00 541.10,86.70 535.80,60.00 534.60,10.00" fill="none" stroke="#f79a48" stroke-width="34" opacity="0.6" stroke-linejoin="miter" filter="url(#bl15)"/><polyline points="674.50,11.00 680.90,43.20 607.30,106.00 541.10,86.70 535.80,60.00 534.60,10.00" fill="none" stroke="#f9b24c" stroke-width="23" opacity="0.9" stroke-linejoin="miter" filter="url(#bl9)"/><polyline points="674.50,11.00 680.90,43.20 607.30,106.00 541.10,86.70 535.80,60.00 534.60,10.00" fill="none" stroke="#b04a72" stroke-width="13" opacity="0.75" stroke-linejoin="miter" filter="url(#bl9)"/><polyline points="674.50,11.00 680.90,43.20 607.30,106.00 541.10,86.70 535.80,60.00 534.60,10.00" fill="none" stroke="#7a2a72" stroke-width="10" opacity="0.9" stroke-linejoin="miter" filter="url(#bl9)"/><polyline points="674.50,11.00 680.90,43.20 607.30,106.00 541.10,86.70 535.80,60.00 534.60,10.00" fill="none" stroke="#561864" stroke-width="5" opacity="0.85" stroke-linejoin="miter" filter="url(#bl6)"/></g></g></g><line x1="622.00" y1="104.40" x2="676.00" y2="104.40" stroke="#111" stroke-width="1.9" /><rect x="648.40" y="13.10" width="35.90" height="7.90" fill="#1c1c1c" /><text x="666.35" y="19.30" font-size="7" fill="#fff" text-anchor="middle" font-weight="normal" >t = 340 nm</text><clipPath id="cpc3"><rect x="386.6" y="113.3" width="148.39999999999998" height="100.3"/></clipPath><clipPath id="fpc3"><polygon points="386.60,113.30 518.00,113.30 521.00,120.50 527.00,140.00 458.70,205.10 386.60,182.60"/></clipPath><g clip-path="url(#cpc3)"><g filter="url(#texs)"><rect x="386.60" y="113.30" width="148.40" height="100.30" fill="#f9e49c" /><polyline points="518.00,111.00 521.00,120.50 527.00,140.00 458.70,205.10 384.00,181.80" fill="none" stroke="#fffbea" stroke-width="12" opacity="0.5" stroke-linejoin="round" filter="url(#bl15)"/><polyline points="518.00,111.00 521.00,120.50 527.00,140.00 458.70,205.10 384.00,181.80" fill="none" stroke="#fffdf2" stroke-width="3" opacity="1" stroke-linejoin="round" filter="url(#bl6)"/><polygon points="386.60,113.30 518.00,113.30 521.00,120.50 527.00,140.00 458.70,205.10 386.60,182.60" fill="#f2603f"/><g clip-path="url(#fpc3)"><polyline points="518.00,111.00 521.00,120.50 527.00,140.00 458.70,205.10 384.00,181.80" fill="none" stroke="#f5803e" stroke-width="15" opacity="1" stroke-linejoin="miter" filter="url(#bl9)"/><polyline points="518.00,111.00 521.00,120.50 527.00,140.00 458.70,205.10 384.00,181.80" fill="none" stroke="#c04a66" stroke-width="8" opacity="0.6" stroke-linejoin="miter" filter="url(#bl6)"/><polyline points="518.00,111.00 521.00,120.50 527.00,140.00 458.70,205.10 384.00,181.80" fill="none" stroke="#f8a448" stroke-width="3" opacity="1" stroke-linejoin="miter" filter="url(#bl6)"/></g></g></g><line x1="476.00" y1="205.30" x2="527.00" y2="205.30" stroke="#111" stroke-width="1.9" /><rect x="498.80" y="113.40" width="35.90" height="7.90" fill="#1c1c1c" /><text x="516.75" y="119.60" font-size="7" fill="#fff" text-anchor="middle" font-weight="normal" >t = 250 nm</text><clipPath id="cpc4"><rect x="535.0" y="113.3" width="149.60000000000002" height="100.3"/></clipPath><clipPath id="fpc4"><polygon points="535.00,113.30 653.50,113.30 655.00,119.00 662.50,137.00 566.50,209.00 535.00,198.50"/></clipPath><g clip-path="url(#cpc4)"><g filter="url(#texs)"><rect x="535.00" y="113.30" width="149.60" height="100.30" fill="#f9e08e" /><polyline points="653.50,111.00 655.00,119.00 662.50,137.00 566.50,209.00 533.00,197.80" fill="none" stroke="#fffbea" stroke-width="12" opacity="0.5" stroke-linejoin="round" filter="url(#bl15)"/><polyline points="653.50,111.00 655.00,119.00 662.50,137.00 566.50,209.00 533.00,197.80" fill="none" stroke="#fffdf2" stroke-width="3" opacity="1" stroke-linejoin="round" filter="url(#bl6)"/><polygon points="535.00,113.30 653.50,113.30 655.00,119.00 662.50,137.00 566.50,209.00 535.00,198.50" fill="url(#c4g)"/><g clip-path="url(#fpc4)"><polyline points="653.50,111.00 655.00,119.00 662.50,137.00 566.50,209.00 533.00,197.80" fill="none" stroke="#f6883e" stroke-width="15" opacity="1" stroke-linejoin="miter" filter="url(#bl9)"/><polyline points="653.50,111.00 655.00,119.00 662.50,137.00 566.50,209.00 533.00,197.80" fill="none" stroke="#c0406a" stroke-width="8.5" opacity="0.7" stroke-linejoin="miter" filter="url(#bl6)"/><polyline points="653.50,111.00 655.00,119.00 662.50,137.00 566.50,209.00 533.00,197.80" fill="none" stroke="#f9a040" stroke-width="3" opacity="1" stroke-linejoin="miter" filter="url(#bl6)"/></g></g><line x1="571" y1="123.5" x2="616" y2="183.5" stroke="#fff" stroke-width="1.3" stroke-dasharray="3.5,2.5"/></g><line x1="625.00" y1="205.30" x2="677.50" y2="205.30" stroke="#111" stroke-width="1.9" /><rect x="648.40" y="113.40" width="35.90" height="7.90" fill="#1c1c1c" /><text x="666.35" y="119.60" font-size="7" fill="#fff" text-anchor="middle" font-weight="normal" >t = 198 nm</text><clipPath id="cpc5"><rect x="386.6" y="213.6" width="148.39999999999998" height="100.20000000000002"/></clipPath><clipPath id="fpc5"><polygon points="386.60,213.60 516.50,213.60 518.00,219.00 525.40,244.90 450.50,313.80 386.60,313.80"/></clipPath><g clip-path="url(#cpc5)"><g filter="url(#texs)"><rect x="386.60" y="213.60" width="148.40" height="100.20" fill="#faeaa8" /><polyline points="516.50,211.00 518.00,219.00 525.40,244.90 449.50,316.00" fill="none" stroke="#fffbea" stroke-width="12" opacity="0.5" stroke-linejoin="round" filter="url(#bl15)"/><polyline points="516.50,211.00 518.00,219.00 525.40,244.90 449.50,316.00" fill="none" stroke="#fffdf2" stroke-width="4" opacity="1" stroke-linejoin="round" filter="url(#bl6)"/><polygon points="386.60,213.60 516.50,213.60 518.00,219.00 525.40,244.90 450.50,313.80 386.60,313.80" fill="#f35c42"/><g clip-path="url(#fpc5)"><polyline points="516.50,211.00 518.00,219.00 525.40,244.90 449.50,316.00" fill="none" stroke="#f8903e" stroke-width="20" opacity="1" stroke-linejoin="miter" filter="url(#bl9)"/><polyline points="516.50,211.00 518.00,219.00 525.40,244.90 449.50,316.00" fill="none" stroke="#f9c850" stroke-width="13" opacity="1" stroke-linejoin="miter" filter="url(#bl9)"/><polyline points="516.50,211.00 518.00,219.00 525.40,244.90 449.50,316.00" fill="none" stroke="#7a2a78" stroke-width="6.5" opacity="0.9" stroke-linejoin="miter" filter="url(#bl9)"/><polyline points="516.50,211.00 518.00,219.00 525.40,244.90 449.50,316.00" fill="none" stroke="#4a1268" stroke-width="4.2" opacity="1" stroke-linejoin="miter" filter="url(#bl6)"/></g></g></g><line x1="437.00" y1="308.60" x2="528.50" y2="308.60" stroke="#111" stroke-width="1.9" /><rect x="498.80" y="213.70" width="35.90" height="7.90" fill="#1c1c1c" /><text x="516.75" y="219.90" font-size="7" fill="#fff" text-anchor="middle" font-weight="normal" >t = 172 nm</text><clipPath id="cpc6"><rect x="535.0" y="213.6" width="149.60000000000002" height="100.20000000000002"/></clipPath><clipPath id="fpc6"><polygon points="535.00,213.60 671.50,213.60 668.50,222.00 575.50,304.50 535.00,297.00"/></clipPath><g clip-path="url(#cpc6)"><g filter="url(#texs)"><rect x="535.00" y="213.60" width="149.60" height="100.20" fill="#f9eaa6" /><polyline points="671.50,211.00 668.50,222.00 575.50,304.50 533.00,296.60" fill="none" stroke="#fffbea" stroke-width="12" opacity="0.5" stroke-linejoin="round" filter="url(#bl15)"/><polyline points="671.50,211.00 668.50,222.00 575.50,304.50 533.00,296.60" fill="none" stroke="#fffdf2" stroke-width="4" opacity="1" stroke-linejoin="round" filter="url(#bl6)"/><polygon points="535.00,213.60 671.50,213.60 668.50,222.00 575.50,304.50 535.00,297.00" fill="#f6703f"/><g clip-path="url(#fpc6)"><polyline points="671.50,211.00 668.50,222.00 575.50,304.50 533.00,296.60" fill="none" stroke="#f8a044" stroke-width="20" opacity="1" stroke-linejoin="miter" filter="url(#bl9)"/><polyline points="671.50,211.00 668.50,222.00 575.50,304.50 533.00,296.60" fill="none" stroke="#f8c050" stroke-width="13" opacity="0.9" stroke-linejoin="miter" filter="url(#bl9)"/><polyline points="671.50,211.00 668.50,222.00 575.50,304.50 533.00,296.60" fill="none" stroke="#f58a44" stroke-width="8" opacity="0.8" stroke-linejoin="miter" filter="url(#bl6)"/><polyline points="671.50,211.00 668.50,222.00 575.50,304.50 533.00,296.60" fill="none" stroke="#9a3070" stroke-width="5" opacity="0.9" stroke-linejoin="miter" filter="url(#bl6)"/><polyline points="671.50,211.00 668.50,222.00 575.50,304.50 533.00,296.60" fill="none" stroke="#f8b050" stroke-width="2" opacity="0.7" stroke-linejoin="miter" filter="url(#bl6)"/></g></g></g><line x1="557.50" y1="308.60" x2="679.00" y2="308.60" stroke="#111" stroke-width="1.9" /><rect x="648.40" y="213.70" width="35.90" height="7.90" fill="#1c1c1c" /><text x="666.35" y="219.90" font-size="7" fill="#fff" text-anchor="middle" font-weight="normal" >t = 144 nm</text><text x="514.50" y="88.80" font-size="8.6" fill="#fff8f0" text-anchor="start" font-weight="normal" >Si</text><text x="436.50" y="11.90" font-size="9" fill="#e8202a" text-anchor="start" font-weight="bold" >PbI<tspan font-size="6" dy="1.5">2</tspan></text><text x="493.90" y="6.40" font-size="7" fill="#222" text-anchor="start" font-weight="normal" textLength="79" lengthAdjust="spacingAndGlyphs">S<tspan font-size="4.5" dy="1">3</tspan><tspan dy="-1"> (arb. units) @ 2.52 THz</tspan></text><text x="505.00" y="11.60" font-size="7" fill="#222" text-anchor="start" font-weight="normal" >min.</text><rect x="519.00" y="7.90" width="30.40" height="3.60" fill="url(#cmap)" /><text x="551.00" y="11.60" font-size="7" fill="#222" text-anchor="start" font-weight="normal" >max.</text><polyline points="12.30,156.20 13.34,155.33 14.84,154.10 16.49,152.62 18.00,151.00 19.37,149.13 20.73,146.99 21.98,144.85 23.00,143.00 23.73,141.53 24.23,140.29 24.62,139.15 25.00,138.00 25.38,136.56 25.70,134.98 26.00,133.75 26.30,133.40 26.59,134.05 26.86,135.43 27.15,137.45 27.50,140.00 27.91,143.41 28.36,147.62 28.86,151.94 29.40,155.70 29.98,158.70 30.61,161.31 31.28,163.69 32.00,166.00 32.79,168.46 33.64,170.94 34.50,173.02 35.30,174.30 36.01,174.50 36.67,173.89 37.32,172.91 38.00,172.00 38.71,171.19 39.42,170.27 40.16,169.01 40.90,168.57 41.66,167.61 42.42,166.53 43.21,165.44 44.00,165.26 44.82,164.82 45.68,164.28 46.51,164.06 47.30,163.56 47.99,163.04 48.62,163.07 49.27,162.93 50.00,162.11 50.84,162.42 51.75,161.57 52.71,161.14 53.70,160.39 54.73,160.45 55.79,159.25 56.89,158.34 58.00,157.10 59.13,155.61 60.29,154.88 61.46,154.05 62.60,152.75 63.71,152.54 64.81,151.03 65.90,149.93 67.00,149.79 68.12,148.58 69.24,148.85 70.37,148.11 71.50,148.05 72.59,147.89 73.67,148.22 74.78,148.28 76.00,148.58 77.35,149.89 78.79,150.02 80.29,151.28 81.80,151.54 83.25,152.94 84.69,153.60 86.24,154.27 88.00,155.24 90.17,156.36 92.63,158.03 95.05,158.92 97.10,160.28 98.61,161.08 99.79,160.64 100.85,161.24 102.00,161.15 103.24,160.71 104.47,160.60 105.80,160.53 107.30,160.20 109.07,160.29 111.04,159.14 113.07,158.17 115.00,157.63 116.83,157.64 118.62,157.32 120.36,156.37 122.00,155.99 123.48,155.80 124.83,155.84 126.19,155.34 127.70,155.80 129.39,156.05 131.20,156.57 133.08,156.70 135.00,157.20 137.00,157.86 139.07,158.90 141.14,158.89 143.10,159.59 144.87,159.75 146.53,159.96 148.20,160.28 150.00,161.28 152.08,161.58 154.34,161.54 156.53,162.07 158.40,162.16 159.80,162.25 160.89,162.04 161.88,161.21 163.00,161.44 164.42,161.14 165.99,160.52 167.41,160.52 168.40,159.99" fill="none" stroke="#1f70e2" stroke-width="1.0" stroke-linejoin="round" stroke-linecap="round" /><polyline points="12.30,188.90 13.34,188.58 14.84,188.14 16.49,187.60 18.00,187.00 19.34,186.33 20.66,185.59 21.90,184.80 23.00,184.00 23.95,183.04 24.77,181.96 25.49,181.07 26.10,180.70 26.54,180.93 26.84,181.58 27.11,182.62 27.50,184.00 28.03,185.92 28.64,188.32 29.30,190.82 30.00,193.00 30.74,194.94 31.52,196.81 32.34,198.29 33.20,199.10 34.08,199.02 34.99,198.24 35.95,197.12 37.00,196.00 38.17,194.85 39.42,193.53 40.72,192.08 42.00,190.77 43.24,190.32 44.48,188.75 45.72,187.84 47.00,187.77 48.36,187.06 49.79,186.17 51.17,186.04 52.40,185.20 53.42,185.68 54.29,186.34 55.11,187.22 56.00,187.70 56.93,188.25 57.85,189.16 58.85,190.30 60.00,190.94 61.36,191.19 62.88,191.36 64.45,191.50 66.00,192.41 67.45,192.25 68.88,192.61 70.36,192.08 72.00,192.24 73.81,192.61 75.75,192.23 77.81,191.99 80.00,191.59 82.36,191.58 84.88,192.04 87.45,192.62 90.00,192.33 92.50,192.48 95.00,192.06 97.50,192.31 100.00,191.56 102.43,192.30 104.81,192.80 107.29,192.22 110.00,192.88 113.34,192.92 117.12,193.02 120.59,192.66 123.00,192.28" fill="none" stroke="#4d9cee" stroke-width="1.0" stroke-linejoin="round" stroke-linecap="round" /><polyline points="12.30,214.40 13.36,213.98 14.90,213.39 16.56,212.70 18.00,212.00 19.13,211.29 20.14,210.54 21.07,209.76 22.00,209.00 22.96,208.11 23.91,207.12 24.78,206.33 25.50,206.00 26.00,206.19 26.34,206.75 26.64,207.69 27.00,209.00 27.46,210.82 27.96,213.11 28.47,215.60 29.00,218.00 29.52,220.53 30.05,223.24 30.60,225.63 31.20,227.20 31.83,227.71 32.49,227.46 33.20,226.78 34.00,226.00 34.91,225.05 35.91,223.80 36.96,222.53 38.00,221.50 39.05,220.74 40.11,220.04 41.17,220.11 42.20,219.87 43.15,219.28 44.04,219.62 44.97,220.12 46.00,220.57 47.19,221.51 48.48,221.88 49.81,223.15 51.10,223.44 52.31,223.27 53.49,223.83 54.70,223.75 56.00,223.99 57.38,223.79 58.81,223.72 60.33,223.71 62.00,223.89 63.81,224.26 65.75,224.23 67.81,223.87 70.00,224.49 72.36,224.55 74.88,224.29 77.45,224.14 80.00,223.36 82.50,223.82 85.00,223.59 87.50,224.36 90.00,223.91 92.50,224.39 95.00,223.93 97.50,224.26 100.00,223.83 102.43,223.50 104.81,223.71 107.29,223.53 110.00,223.96 113.34,223.33 117.12,223.43 120.59,223.40 123.00,223.70" fill="none" stroke="#2b2fbd" stroke-width="1.0" stroke-linejoin="round" stroke-linecap="round" /><polyline points="12.30,238.70 13.31,238.80 14.76,238.95 16.40,239.10 18.00,239.20 19.63,239.28 21.38,239.34 23.01,239.34 24.30,239.20 25.11,238.73 25.59,238.01 25.92,237.44 26.30,237.40 26.74,238.00 27.15,239.03 27.56,240.39 28.00,242.00 28.46,244.00 28.94,246.39 29.44,248.84 30.00,251.00 30.62,252.99 31.30,254.92 32.00,256.46 32.70,257.30 33.39,257.24 34.08,256.48 34.78,255.31 35.50,254.00 36.23,252.43 36.98,250.53 37.74,248.60 38.50,247.00 39.27,245.69 40.06,244.18 40.84,243.79 41.60,243.31 42.31,243.73 42.99,244.66 43.70,244.99 44.50,246.18 45.41,246.82 46.40,247.71 47.44,248.02 48.50,249.18 49.56,249.43 50.64,248.69 51.77,248.38 53.00,248.74 54.40,247.73 55.92,247.44 57.43,247.25 58.80,247.88 59.90,248.06 60.82,248.18 61.79,248.77 63.00,248.57 64.56,249.34 66.35,249.32 68.21,249.49 70.00,249.40 71.52,249.32 72.90,248.98 74.48,248.62 76.60,248.84 79.32,248.66 82.46,249.13 86.03,249.29 90.00,249.20 94.70,248.87 100.03,248.53 105.34,248.51 110.00,248.49 114.05,248.54 117.75,248.79 120.83,247.96 123.00,248.28" fill="none" stroke="#5b5bd6" stroke-width="1.0" stroke-linejoin="round" stroke-linecap="round" /><polyline points="12.80,266.70 13.74,266.58 15.09,266.42 16.59,266.22 18.00,266.00 19.30,265.80 20.62,265.61 21.87,265.34 23.00,264.90 23.99,263.96 24.89,262.66 25.66,261.65 26.30,261.60 26.75,262.70 27.04,264.60 27.26,267.10 27.50,270.00 27.75,273.89 27.97,278.66 28.24,283.07 28.60,285.90 29.09,286.55 29.68,285.76 30.33,284.31 31.00,283.00 31.69,281.85 32.43,280.50 33.19,279.15 34.00,278.00 34.87,277.00 35.81,276.09 36.74,275.40 37.60,275.10 38.37,275.34 39.09,275.99 39.79,276.80 40.50,277.49 41.21,278.28 41.91,279.03 42.63,279.44 43.40,279.61 44.24,279.79 45.12,279.58 46.05,279.53 47.00,279.18 47.97,278.94 48.97,278.28 50.01,278.66 51.10,278.10 52.17,278.45 53.24,278.94 54.47,279.39 56.00,279.64 57.82,278.84 59.87,279.14 62.23,279.13 65.00,279.20 68.34,279.01 72.16,279.40 76.14,279.00 80.00,279.22 84.00,279.83 88.19,279.67 91.91,279.45 94.50,279.15" fill="none" stroke="#e22424" stroke-width="1.0" stroke-linejoin="round" stroke-linecap="round" /><polyline points="17.40,298.10 18.05,297.93 18.99,297.69 20.04,297.38 21.00,297.00 21.88,296.53 22.75,295.99 23.57,295.40 24.30,294.80 24.90,294.00 25.41,293.06 25.87,292.36 26.30,292.30 26.72,293.09 27.10,294.49 27.46,296.22 27.80,298.00 28.11,299.91 28.39,302.05 28.67,304.16 29.00,306.00 29.38,307.63 29.78,309.13 30.22,310.30 30.70,310.90 31.20,310.77 31.74,310.05 32.33,309.03 33.00,308.00 33.81,306.79 34.74,305.33 35.67,304.03 36.50,303.30 37.18,303.37 37.77,303.98 38.35,304.80 39.00,305.50 39.71,306.10 40.46,307.14 41.27,307.45 42.20,307.34 43.21,307.47 44.30,307.53 45.54,307.31 47.00,306.78 48.61,307.44 50.36,306.99 52.43,307.07 55.00,307.71 58.04,307.16 61.47,307.69 65.42,307.30 70.00,307.69 76.03,307.41 83.19,307.50 89.88,308.00 94.50,307.57" fill="none" stroke="#f6a464" stroke-width="1.0" stroke-linejoin="round" stroke-linecap="round" /><line x1="94.50" y1="279.50" x2="123.90" y2="279.50" stroke="#555" stroke-width="0.7" stroke-dasharray="2.4,1.8"/><line x1="94.50" y1="307.60" x2="123.90" y2="307.60" stroke="#555" stroke-width="0.7" stroke-dasharray="2.4,1.8"/><rect x="12.3" y="130.4" width="156.30" height="183.70" fill="none" stroke="#8a8a8a" stroke-width="0.8"/><line x1="12.30" y1="135.80" x2="13.90" y2="135.80" stroke="#777" stroke-width="0.7" /><line x1="12.30" y1="159.00" x2="13.90" y2="159.00" stroke="#777" stroke-width="0.7" /><line x1="12.30" y1="182.40" x2="13.90" y2="182.40" stroke="#777" stroke-width="0.7" /><line x1="12.30" y1="206.70" x2="13.90" y2="206.70" stroke="#777" stroke-width="0.7" /><line x1="12.30" y1="229.00" x2="13.90" y2="229.00" stroke="#777" stroke-width="0.7" /><line x1="12.30" y1="252.00" x2="13.90" y2="252.00" stroke="#777" stroke-width="0.7" /><line x1="12.30" y1="275.50" x2="13.90" y2="275.50" stroke="#777" stroke-width="0.7" /><line x1="12.30" y1="298.50" x2="13.90" y2="298.50" stroke="#777" stroke-width="0.7" /><line x1="12.50" y1="314.10" x2="12.50" y2="312.50" stroke="#777" stroke-width="0.7" /><text x="12.50" y="323.70" font-size="9" fill="#333" text-anchor="middle" font-weight="normal" >0</text><line x1="34.80" y1="314.10" x2="34.80" y2="312.50" stroke="#777" stroke-width="0.7" /><text x="34.80" y="323.70" font-size="9" fill="#333" text-anchor="middle" font-weight="normal" >1</text><line x1="57.10" y1="314.10" x2="57.10" y2="312.50" stroke="#777" stroke-width="0.7" /><text x="57.10" y="323.70" font-size="9" fill="#333" text-anchor="middle" font-weight="normal" >2</text><line x1="79.40" y1="314.10" x2="79.40" y2="312.50" stroke="#777" stroke-width="0.7" /><text x="79.40" y="323.70" font-size="9" fill="#333" text-anchor="middle" font-weight="normal" >3</text><line x1="101.70" y1="314.10" x2="101.70" y2="312.50" stroke="#777" stroke-width="0.7" /><text x="101.70" y="323.70" font-size="9" fill="#333" text-anchor="middle" font-weight="normal" >4</text><line x1="124.00" y1="314.10" x2="124.00" y2="312.50" stroke="#777" stroke-width="0.7" /><text x="124.00" y="323.70" font-size="9" fill="#333" text-anchor="middle" font-weight="normal" >5</text><line x1="146.30" y1="314.10" x2="146.30" y2="312.50" stroke="#777" stroke-width="0.7" /><text x="146.30" y="323.70" font-size="9" fill="#333" text-anchor="middle" font-weight="normal" >6</text><line x1="168.60" y1="314.10" x2="168.60" y2="312.50" stroke="#777" stroke-width="0.7" /><text x="168.60" y="323.70" font-size="9" fill="#333" text-anchor="middle" font-weight="normal" >7</text><text x="90.70" y="333.60" font-size="9.5" fill="#333" text-anchor="middle" font-weight="normal" >Position (μm)</text><text x="0.00" y="0.00" font-size="10" fill="#333" text-anchor="middle" font-weight="normal" transform="translate(7.7,221.3) rotate(-90)">S<tspan font-size="6" dy="1.5">3</tspan><tspan dy="-1.5"> (arb. units)</tspan></text><text x="132.80" y="127.60" font-size="6.5" fill="#333" text-anchor="start" font-weight="normal" >CF = λ<tspan font-size="4.2" dy="1">0</tspan><tspan dy="-1">/λ</tspan><tspan font-size="4.2" dy="1">p</tspan></text><text x="142.80" y="144.00" font-size="6.6" fill="#1f70e2" text-anchor="middle" font-weight="normal" >CF = 45</text><rect x="123.90" y="146.20" width="35.80" height="7.20" fill="#1f70e2" /><text x="141.80" y="151.90" font-size="7" fill="#fff" text-anchor="middle" font-weight="normal" >t = 655 nm</text><text x="142.80" y="186.70" font-size="6.6" fill="#4d9cee" text-anchor="middle" font-weight="normal" >CF = 96</text><rect x="123.90" y="189.40" width="35.80" height="7.20" fill="#4d9cee" /><text x="141.80" y="195.10" font-size="7" fill="#fff" text-anchor="middle" font-weight="normal" >t = 340 nm</text><text x="142.80" y="218.10" font-size="6.6" fill="#2b2fbd" text-anchor="middle" font-weight="normal" >CF = 128</text><rect x="123.90" y="220.80" width="35.80" height="7.20" fill="#2b2fbd" /><text x="141.80" y="226.50" font-size="7" fill="#fff" text-anchor="middle" font-weight="normal" >t = 250 nm</text><text x="142.80" y="243.10" font-size="6.6" fill="#5b5bd6" text-anchor="middle" font-weight="normal" >CF = 165</text><rect x="123.90" y="245.30" width="35.80" height="7.20" fill="#5b5bd6" /><text x="141.80" y="251.00" font-size="7" fill="#fff" text-anchor="middle" font-weight="normal" >t = 198 nm</text><text x="142.80" y="274.20" font-size="6.6" fill="#e22424" text-anchor="middle" font-weight="normal" >CF = 216</text><rect x="123.90" y="276.20" width="35.80" height="7.20" fill="#e22424" /><text x="141.80" y="281.90" font-size="7" fill="#fff" text-anchor="middle" font-weight="normal" >t = 172 nm</text><text x="142.80" y="301.60" font-size="6.6" fill="#f6a464" text-anchor="middle" font-weight="normal" >CF = 264</text><rect x="123.90" y="303.80" width="35.80" height="7.20" fill="#f6a464" /><text x="141.80" y="309.50" font-size="7" fill="#fff" text-anchor="middle" font-weight="normal" >t = 144 nm</text><line x1="73.50" y1="142.10" x2="127.30" y2="142.10" stroke="#333" stroke-width="0.5" /><polygon points="72.30,142.10 74.30,141.20 74.30,143.00" fill="#333"/><polygon points="128.50,142.10 126.50,141.20 126.50,143.00" fill="#333"/><text x="99.60" y="138.80" font-size="5.2" fill="#333" text-anchor="middle" font-weight="normal" >λ<tspan font-size="3.6" dy="0.9">p</tspan><tspan dy="-0.9">=2.62 μm</tspan></text><line x1="53.60" y1="185.60" x2="78.00" y2="185.60" stroke="#333" stroke-width="0.5" /><polygon points="52.40,185.60 54.40,184.70 54.40,186.50" fill="#333"/><polygon points="79.20,185.60 77.20,184.70 77.20,186.50" fill="#333"/><text x="66.40" y="181.90" font-size="5.2" fill="#333" text-anchor="middle" font-weight="normal" >λ<tspan font-size="3.6" dy="0.9">p</tspan><tspan dy="-0.9">=1.24 μm</tspan></text><line x1="44.10" y1="217.70" x2="61.40" y2="217.70" stroke="#333" stroke-width="0.5" /><polygon points="42.90,217.70 44.90,216.80 44.90,218.60" fill="#333"/><polygon points="62.60,217.70 60.60,216.80 60.60,218.60" fill="#333"/><text x="51.10" y="213.70" font-size="5.2" fill="#333" text-anchor="middle" font-weight="normal" >λ<tspan font-size="3.6" dy="0.9">p</tspan><tspan dy="-0.9">=0.93 μm</tspan></text><line x1="43.40" y1="241.70" x2="57.10" y2="241.70" stroke="#333" stroke-width="0.5" /><polygon points="42.20,241.70 44.20,240.80 44.20,242.60" fill="#333"/><polygon points="58.30,241.70 56.30,240.80 56.30,242.60" fill="#333"/><text x="50.50" y="238.00" font-size="5.2" fill="#333" text-anchor="middle" font-weight="normal" >λ<tspan font-size="3.6" dy="0.9">p</tspan><tspan dy="-0.9">=0.72 μm</tspan></text><line x1="38.80" y1="271.80" x2="47.80" y2="271.80" stroke="#333" stroke-width="0.5" /><polygon points="37.60,271.80 39.60,270.90 39.60,272.70" fill="#333"/><polygon points="49.00,271.80 47.00,270.90 47.00,272.70" fill="#333"/><text x="42.50" y="269.60" font-size="5.2" fill="#333" text-anchor="middle" font-weight="normal" >λ<tspan font-size="3.6" dy="0.9">p</tspan><tspan dy="-0.9">=0.55 μm</tspan></text><line x1="37.00" y1="302.50" x2="45.60" y2="302.50" stroke="#333" stroke-width="0.5" /><polygon points="35.80,302.50 37.80,301.60 37.80,303.40" fill="#333"/><polygon points="46.80,302.50 44.80,301.60 44.80,303.40" fill="#333"/><text x="43.80" y="299.40" font-size="5.2" fill="#333" text-anchor="middle" font-weight="normal" >λ<tspan font-size="3.6" dy="0.9">p</tspan><tspan dy="-0.9">=0.45 μm</tspan></text><clipPath id="cpe"><rect x="204.9" y="132.3" width="152.40" height="95.50"/></clipPath><line x1="204.90" y1="219.00" x2="357.30" y2="219.00" stroke="#999" stroke-width="0.8" stroke-dasharray="2.2,1.8"/><line x1="204.90" y1="175.40" x2="357.30" y2="175.40" stroke="#555" stroke-width="0.7" stroke-dasharray="2.4,1.8"/><g clip-path="url(#cpe)"><polyline points="204.90,219.03 205.54,218.66 206.19,218.30 206.86,217.93 207.54,217.57 208.22,217.21 208.92,216.85 209.63,216.49 210.35,216.13 211.08,215.77 211.82,215.42 212.56,215.06 213.32,214.71 214.08,214.36 214.85,214.00 215.63,213.65 216.41,213.30 217.21,212.96 218.01,212.61 218.81,212.26 219.62,211.92 220.44,211.57 221.26,211.23 222.10,210.89 222.94,210.55 223.79,210.21 224.66,209.87 225.53,209.53 226.41,209.19 227.30,208.86 228.20,208.52 229.11,208.19 230.02,207.86 230.95,207.53 231.89,207.20 232.84,206.87 233.80,206.54 234.76,206.21 235.74,205.89 236.73,205.56 237.72,205.24 238.73,204.92 239.75,204.59 240.77,204.27 241.81,203.95 242.87,203.63 243.94,203.32 245.02,203.00 246.11,202.69 247.22,202.37 248.33,202.06 249.47,201.74 250.61,201.43 251.76,201.12 252.93,200.81 254.11,200.51 255.30,200.20 256.50,199.89 257.71,199.59 258.93,199.28 260.17,198.98 261.41,198.68 262.66,198.38 263.93,198.08 265.20,197.78 266.48,197.48 267.78,197.18 269.08,196.89 270.40,196.59 271.74,196.30 273.09,196.01 274.47,195.72 275.85,195.43 277.26,195.14 278.67,194.85 280.10,194.56 281.55,194.27 283.00,193.99 284.47,193.70 285.95,193.42 287.43,193.14 288.93,192.85 290.44,192.57 291.95,192.29 293.48,192.02 295.01,191.74 296.54,191.46 298.08,191.19 299.63,190.91 301.19,190.64 302.74,190.37 304.30,190.09 305.87,189.82 307.44,189.55 309.01,189.29 310.59,189.02 312.17,188.75 313.76,188.49 315.36,188.22 316.96,187.96 318.57,187.69 320.19,187.43 321.81,187.17 323.45,186.91 325.09,186.65 326.74,186.40 328.41,186.14 330.08,185.88 331.76,185.63 333.45,185.37 335.15,185.12 336.86,184.87 338.59,184.62 340.32,184.37 342.07,184.12 343.83,183.87 345.60,183.63 347.38,183.38 349.17,183.13 350.98,182.89 352.80,182.65 354.63,182.40 356.47,182.16 358.33,181.92 360.20,181.68 362.08,181.44 363.97,181.21 365.87,180.97 367.79,180.73 369.72,180.50 371.66,180.27 373.61,180.03 375.58,179.80 377.55,179.57 379.54,179.34 381.55,179.11 383.56,178.88 385.59,178.66 387.64,178.43 389.69,178.21 391.76,177.98 393.84,177.76 395.93,177.54 398.04,177.31 400.16,177.09 402.30,176.87 404.44,176.65 406.60,176.44 408.78,176.22 410.96,176.00 413.16,175.79 415.37,175.58 417.60,175.36 419.84,175.15 422.10,174.94 424.39,174.73 426.72,174.52 429.09,174.31 431.49,174.10 433.92,173.90 436.38,173.69 438.86,173.48 441.37,173.28 443.90,173.08 446.45,172.87 449.01,172.67 451.59,172.47 454.19,172.27 456.79,172.07 459.40,171.88 462.02,171.68 464.65,171.48 467.28,171.29 469.91,171.09 472.54,170.90 475.17,170.71 477.79,170.52 480.41,170.33 483.03,170.14 485.64,169.95 488.23,169.76 490.82,169.57 493.39,169.39 495.95,169.20 498.50,169.02 501.03,168.83 503.54,168.65 506.04,168.47 508.51,168.29 510.97,168.11 513.40,167.93 515.81,167.75 518.21,167.57 520.62,167.39 523.04,167.22 525.46,167.04 527.88,166.87 530.30,166.70 532.72,166.52 535.13,166.35 537.53,166.18 539.93,166.01 542.31,165.84 544.68,165.67 547.03,165.51 549.37,165.34 551.69,165.18 553.98,165.01 556.25,164.85 558.50,164.68 560.72,164.52 562.92,164.36 565.09,164.20 567.22,164.04 569.34,163.88 571.45,163.72 573.56,163.57 575.65,163.41 577.73,163.25 579.79,163.10 581.84,162.94 583.87,162.79 585.89,162.64 587.89,162.49 589.86,162.34 591.82,162.19 593.75,162.04 595.66,161.89 597.55,161.74 599.41,161.60 601.24,161.45 603.05,161.31 604.83,161.16 606.58,161.02 608.30,160.87 609.99,160.73 611.65,160.59 613.28,160.45 614.88,160.31 616.46,160.17 618.02,160.04 619.56,159.90 621.08,159.76 622.58,159.63 624.06,159.49 625.53,159.36 626.97,159.23 628.39,159.09 629.80,158.96 631.19,158.83 632.56,158.70 633.91,158.57 635.24,158.44 636.55,158.32 637.85,158.19 639.13,158.06 640.39,157.94 641.63,157.81 642.86,157.69 644.06,157.57 645.26,157.45 646.43,157.32 647.59,157.20 648.73,157.08 649.85,156.96 650.96,156.85 652.05,156.73 653.13,156.61 654.20,156.49 655.27,156.38 656.32,156.26 657.37,156.15 658.40,156.04 659.43,155.92 660.44,155.81 661.44,155.70 662.44,155.59 663.41,155.48 664.38,155.37 665.33,155.27 666.27,155.16 667.19,155.05 668.11,154.95 669.00,154.84 669.88,154.74 670.75,154.63 671.60,154.53 672.44,154.43 673.26,154.33 674.07,154.23 674.85,154.13 675.63,154.03 676.39,153.93 677.13,153.83 677.85,153.73 678.56,153.64 679.25,153.54 679.92,153.44 680.58,153.35 681.22,153.26 681.85,153.16 682.45,153.07 683.07,152.98 683.70,152.89 684.35,152.80 685.01,152.71 685.67,152.62 686.33,152.53 686.98,152.44 687.61,152.36 688.23,152.27 688.82,152.19 689.38,152.10 689.91,152.02 690.40,151.93 690.85,151.85 691.26,151.77 691.62,151.69 691.92,151.61 692.17,151.53 692.37,151.45 692.50,151.37 692.57,151.29 692.58,151.21 692.54,151.13 692.48,151.06 692.38,150.98 692.25,150.91 692.10,150.83 691.91,150.76 691.70,150.69 691.46,150.62 691.20,150.54 690.92,150.47 690.62,150.40 690.29,150.33 689.95,150.26 689.59,150.19 689.21,150.13 688.82,150.06 688.41,149.99 687.99,149.93 687.56,149.86 687.11,149.80 686.65,149.73 686.19,149.67 685.71,149.61 685.22,149.54 684.73,149.48 684.23,149.42 683.72,149.36 683.21,149.30 682.69,149.24 682.17,149.18 681.64,149.12 681.11,149.07 680.58,149.01 680.05,148.95 679.51,148.90 678.97,148.84 678.43,148.79 677.89,148.73 677.35,148.68 676.80,148.63 676.22,148.58 675.60,148.52 674.96,148.47 674.28,148.42 673.58,148.37 672.84,148.32 672.07,148.27 671.27,148.23 670.44,148.18 669.57,148.13 668.68,148.08 667.76,148.04 666.81,147.99 665.83,147.95 664.82,147.90 663.78,147.86 662.71,147.82 661.62,147.77 660.50,147.73 659.35,147.69 658.18,147.65 656.99,147.61 655.77,147.57 654.53,147.53 653.26,147.49 651.98,147.45 650.67,147.41 649.35,147.37 648.00,147.34 646.64,147.30 645.26,147.26 643.87,147.23 642.46,147.19 641.04,147.16 639.60,147.13 638.15,147.09 636.69,147.06 635.22,147.03 633.74,146.99 632.26,146.96 630.76,146.93 629.26,146.90 627.75,146.87 626.24,146.84 624.58,146.81 622.74,146.78 620.72,146.76 618.53,146.73 616.19,146.70 613.70,146.67 611.07,146.65 608.32,146.62 605.45,146.60 602.47,146.57 599.39,146.55 596.22,146.52 592.97,146.50 589.64,146.48 586.25,146.45 582.79,146.43 579.29,146.41 575.74,146.39 572.15,146.37 568.53,146.34 564.88,146.32 561.22,146.30 557.54,146.29 553.85,146.27 550.16,146.25 546.46,146.23 542.78,146.21 539.11,146.19 535.43,146.18 531.64,146.16 527.73,146.14 523.68,146.13 519.49,146.11 515.14,146.10 510.64,146.08 506.00,146.07 501.20,146.06 496.26,146.04 491.17,146.03 485.96,146.02 480.62,146.00 475.17,145.99 469.61,145.98 463.97,145.97 458.24,145.96 452.45,145.95 446.61,145.94 440.73,145.93 434.83,145.92 428.91,145.91 423.00,145.90 416.89,145.89 409.89,145.88 402.11,145.87 393.73,145.86 384.91,145.86 375.78,145.85 366.45,145.84 357.04,145.84 347.63,145.83 338.30,145.82 329.11,145.82 320.12,145.81 311.37,145.81 302.91,145.80 294.76,145.80 286.94,145.79 279.49,145.79 272.40,145.78 265.69,145.78 259.37,145.78 253.44,145.77 247.90,145.77 242.74,145.77 237.97,145.77 233.57,145.76 229.54,145.76 225.87,145.76 222.54,145.76 219.55,145.76 216.89,145.75 214.55,145.75 212.50,145.75 210.74,145.75 209.25,145.75 208.01,145.75 207.02,145.75 206.24,145.75 205.67,145.75 205.27,145.75 205.04,145.75 204.92,145.75 204.90,145.75" fill="none" stroke="#f8d028" stroke-width="1.1" stroke-linejoin="round" stroke-linecap="round" /><polyline points="204.90,219.03 205.22,218.66 205.55,218.30 205.88,217.93 206.22,217.57 206.56,217.21 206.91,216.85 207.27,216.49 207.63,216.13 207.99,215.77 208.36,215.42 208.73,215.06 209.11,214.71 209.49,214.36 209.88,214.00 210.26,213.65 210.66,213.30 211.05,212.96 211.45,212.61 211.86,212.26 212.26,211.92 212.67,211.57 213.08,211.23 213.50,210.89 213.92,210.55 214.35,210.21 214.78,209.87 215.21,209.53 215.65,209.19 216.10,208.86 216.55,208.52 217.00,208.19 217.46,207.86 217.93,207.53 218.40,207.20 218.87,206.87 219.35,206.54 219.83,206.21 220.32,205.89 220.81,205.56 221.31,205.24 221.82,204.92 222.32,204.59 222.84,204.27 223.36,203.95 223.88,203.63 224.42,203.32 224.96,203.00 225.50,202.69 226.06,202.37 226.62,202.06 227.18,201.74 227.75,201.43 228.33,201.12 228.92,200.81 229.50,200.51 230.10,200.20 230.70,199.89 231.31,199.59 231.92,199.28 232.53,198.98 233.16,198.68 233.78,198.38 234.41,198.08 235.05,197.78 235.69,197.48 236.34,197.18 236.99,196.89 237.65,196.59 238.32,196.30 239.00,196.01 239.68,195.72 240.38,195.43 241.08,195.14 241.79,194.85 242.50,194.56 243.22,194.27 243.95,193.99 244.68,193.70 245.42,193.42 246.17,193.14 246.92,192.85 247.67,192.57 248.43,192.29 249.19,192.02 249.95,191.74 250.72,191.46 251.49,191.19 252.27,190.91 253.04,190.64 253.82,190.37 254.60,190.09 255.38,189.82 256.17,189.55 256.95,189.29 257.74,189.02 258.53,188.75 259.33,188.49 260.13,188.22 260.93,187.96 261.73,187.69 262.54,187.43 263.36,187.17 264.17,186.91 265.00,186.65 265.82,186.40 266.65,186.14 267.49,185.88 268.33,185.63 269.17,185.37 270.03,185.12 270.88,184.87 271.74,184.62 272.61,184.37 273.48,184.12 274.36,183.87 275.25,183.63 276.14,183.38 277.04,183.13 277.94,182.89 278.85,182.65 279.76,182.40 280.69,182.16 281.62,181.92 282.55,181.68 283.49,181.44 284.43,181.21 285.39,180.97 286.34,180.73 287.31,180.50 288.28,180.27 289.25,180.03 290.24,179.80 291.23,179.57 292.22,179.34 293.22,179.11 294.23,178.88 295.25,178.66 296.27,178.43 297.30,178.21 298.33,177.98 299.37,177.76 300.42,177.54 301.47,177.31 302.53,177.09 303.60,176.87 304.67,176.65 305.75,176.44 306.84,176.22 307.93,176.00 309.03,175.79 310.14,175.58 311.25,175.36 312.37,175.15 313.50,174.94 314.64,174.73 315.81,174.52 316.99,174.31 318.19,174.10 319.41,173.90 320.64,173.69 321.88,173.48 323.14,173.28 324.40,173.08 325.67,172.87 326.96,172.67 328.25,172.47 329.54,172.27 330.85,172.07 332.15,171.88 333.46,171.68 334.77,171.48 336.09,171.29 337.40,171.09 338.72,170.90 340.03,170.71 341.35,170.52 342.66,170.33 343.96,170.14 345.27,169.95 346.57,169.76 347.86,169.57 349.15,169.39 350.43,169.20 351.70,169.02 352.97,168.83 354.22,168.65 355.47,168.47 356.71,168.29 357.93,168.11 359.15,167.93 360.36,167.75 361.56,167.57 362.76,167.39 363.97,167.22 365.18,167.04 366.39,166.87 367.60,166.70 368.81,166.52 370.01,166.35 371.22,166.18 372.41,166.01 373.60,165.84 374.79,165.67 375.97,165.51 377.13,165.34 378.29,165.18 379.44,165.01 380.58,164.85 381.70,164.68 382.81,164.52 383.91,164.36 384.99,164.20 386.06,164.04 387.12,163.88 388.18,163.72 389.23,163.57 390.27,163.41 391.31,163.25 392.35,163.10 393.37,162.94 394.39,162.79 395.39,162.64 396.39,162.49 397.38,162.34 398.36,162.19 399.33,162.04 400.28,161.89 401.22,161.74 402.15,161.60 403.07,161.45 403.97,161.31 404.86,161.16 405.74,161.02 406.60,160.87 407.45,160.73 408.28,160.59 409.09,160.45 409.89,160.31 410.68,160.17 411.46,160.04 412.23,159.90 412.99,159.76 413.74,159.63 414.48,159.49 415.21,159.36 415.93,159.23 416.65,159.09 417.35,158.96 418.04,158.83 418.73,158.70 419.40,158.57 420.07,158.44 420.73,158.32 421.37,158.19 422.01,158.06 422.64,157.94 423.27,157.81 423.88,157.69 424.48,157.57 425.08,157.45 425.66,157.32 426.24,157.20 426.81,157.08 427.38,156.96 427.93,156.85 428.48,156.73 429.02,156.61 429.55,156.49 430.08,156.38 430.61,156.26 431.13,156.15 431.65,156.04 432.16,155.92 432.67,155.81 433.17,155.70 433.67,155.59 434.16,155.48 434.64,155.37 435.12,155.27 435.58,155.16 436.05,155.05 436.50,154.95 436.95,154.84 437.39,154.74 437.83,154.63 438.25,154.53 438.67,154.43 439.08,154.33 439.48,154.23 439.88,154.13 440.26,154.03 440.64,153.93 441.01,153.83 441.38,153.73 441.73,153.64 442.07,153.54 442.41,153.44 442.74,153.35 443.06,153.26 443.37,153.16 443.68,153.07 443.98,152.98 444.30,152.89 444.63,152.80 444.96,152.71 445.29,152.62 445.61,152.53 445.94,152.44 446.26,152.36 446.56,152.27 446.86,152.19 447.14,152.10 447.41,152.02 447.65,151.93 447.88,151.85 448.08,151.77 448.26,151.69 448.41,151.61 448.54,151.53 448.63,151.45 448.70,151.37 448.73,151.29 448.74,151.21 448.72,151.13 448.69,151.06 448.64,150.98 448.58,150.91 448.50,150.83 448.41,150.76 448.30,150.69 448.18,150.62 448.05,150.54 447.91,150.47 447.76,150.40 447.60,150.33 447.42,150.26 447.24,150.19 447.06,150.13 446.86,150.06 446.66,149.99 446.45,149.93 446.23,149.86 446.01,149.80 445.78,149.73 445.54,149.67 445.30,149.61 445.06,149.54 444.82,149.48 444.57,149.42 444.31,149.36 444.06,149.30 443.80,149.24 443.54,149.18 443.27,149.12 443.01,149.07 442.74,149.01 442.47,148.95 442.21,148.90 441.94,148.84 441.67,148.79 441.40,148.73 441.13,148.68 440.85,148.63 440.56,148.58 440.25,148.52 439.93,148.47 439.59,148.42 439.24,148.37 438.87,148.32 438.48,148.27 438.08,148.23 437.67,148.18 437.24,148.13 436.79,148.08 436.33,148.04 435.85,147.99 435.36,147.95 434.86,147.90 434.34,147.86 433.81,147.82 433.26,147.77 432.70,147.73 432.13,147.69 431.54,147.65 430.94,147.61 430.33,147.57 429.71,147.53 429.08,147.49 428.44,147.45 427.79,147.41 427.12,147.37 426.45,147.34 425.77,147.30 425.08,147.26 424.38,147.23 423.68,147.19 422.97,147.16 422.25,147.13 421.53,147.09 420.80,147.06 420.06,147.03 419.32,146.99 418.58,146.96 417.83,146.93 417.08,146.90 416.33,146.87 415.57,146.84 414.74,146.81 413.82,146.78 412.81,146.76 411.72,146.73 410.54,146.70 409.30,146.67 407.99,146.65 406.61,146.62 405.17,146.60 403.68,146.57 402.14,146.55 400.56,146.52 398.93,146.50 397.27,146.48 395.57,146.45 393.85,146.43 392.09,146.41 390.32,146.39 388.53,146.37 386.72,146.34 384.89,146.32 383.06,146.30 381.22,146.29 379.37,146.27 377.53,146.25 375.68,146.23 373.84,146.21 372.00,146.19 370.16,146.18 368.27,146.16 366.31,146.14 364.29,146.13 362.19,146.11 360.02,146.10 357.77,146.08 355.45,146.07 353.05,146.06 350.58,146.04 348.04,146.03 345.43,146.02 342.76,146.00 340.03,145.99 337.26,145.98 334.43,145.97 331.57,145.96 328.68,145.95 325.76,145.94 322.82,145.93 319.86,145.92 316.91,145.91 313.95,145.90 310.89,145.89 307.39,145.88 303.51,145.87 299.32,145.86 294.91,145.86 290.34,145.85 285.68,145.84 280.97,145.84 276.27,145.83 271.60,145.82 267.00,145.82 262.51,145.81 258.14,145.81 253.90,145.80 249.83,145.80 245.92,145.79 242.19,145.79 238.65,145.78 235.30,145.78 232.14,145.78 229.17,145.77 226.40,145.77 223.82,145.77 221.43,145.77 219.24,145.76 217.22,145.76 215.38,145.76 213.72,145.76 212.23,145.76 210.90,145.75 209.72,145.75 208.70,145.75 207.82,145.75 207.07,145.75 206.46,145.75 205.96,145.75 205.57,145.75 205.28,145.75 205.09,145.75 204.97,145.75 204.91,145.75 204.90,145.75" fill="none" stroke="#f8aa6a" stroke-width="1.1" stroke-linejoin="round" stroke-linecap="round" /><polyline points="204.90,219.03 205.11,218.66 205.33,218.30 205.55,217.93 205.78,217.57 206.01,217.21 206.24,216.85 206.48,216.49 206.72,216.13 206.96,215.77 207.21,215.42 207.45,215.06 207.71,214.71 207.96,214.36 208.22,214.00 208.48,213.65 208.74,213.30 209.00,212.96 209.27,212.61 209.54,212.26 209.81,211.92 210.08,211.57 210.35,211.23 210.63,210.89 210.91,210.55 211.20,210.21 211.49,209.87 211.78,209.53 212.07,209.19 212.37,208.86 212.67,208.52 212.97,208.19 213.27,207.86 213.58,207.53 213.90,207.20 214.21,206.87 214.53,206.54 214.85,206.21 215.18,205.89 215.51,205.56 215.84,205.24 216.18,204.92 216.52,204.59 216.86,204.27 217.20,203.95 217.56,203.63 217.91,203.32 218.27,203.00 218.64,202.69 219.01,202.37 219.38,202.06 219.76,201.74 220.14,201.43 220.52,201.12 220.91,200.81 221.30,200.51 221.70,200.20 222.10,199.89 222.50,199.59 222.91,199.28 223.32,198.98 223.74,198.68 224.15,198.38 224.58,198.08 225.00,197.78 225.43,197.48 225.86,197.18 226.29,196.89 226.73,196.59 227.18,196.30 227.63,196.01 228.09,195.72 228.55,195.43 229.02,195.14 229.49,194.85 229.97,194.56 230.45,194.27 230.93,193.99 231.42,193.70 231.92,193.42 232.41,193.14 232.91,192.85 233.41,192.57 233.92,192.29 234.43,192.02 234.94,191.74 235.45,191.46 235.96,191.19 236.48,190.91 237.00,190.64 237.51,190.37 238.03,190.09 238.56,189.82 239.08,189.55 239.60,189.29 240.13,189.02 240.66,188.75 241.19,188.49 241.72,188.22 242.25,187.96 242.79,187.69 243.33,187.43 243.87,187.17 244.42,186.91 244.96,186.65 245.51,186.40 246.07,186.14 246.63,185.88 247.19,185.63 247.75,185.37 248.32,185.12 248.89,184.87 249.46,184.62 250.04,184.37 250.62,184.12 251.21,183.87 251.80,183.63 252.39,183.38 252.99,183.13 253.59,182.89 254.20,182.65 254.81,182.40 255.42,182.16 256.04,181.92 256.67,181.68 257.29,181.44 257.92,181.21 258.56,180.97 259.20,180.73 259.84,180.50 260.49,180.27 261.14,180.03 261.79,179.80 262.45,179.57 263.11,179.34 263.78,179.11 264.45,178.88 265.13,178.66 265.81,178.43 266.50,178.21 267.19,177.98 267.88,177.76 268.58,177.54 269.28,177.31 269.99,177.09 270.70,176.87 271.41,176.65 272.13,176.44 272.86,176.22 273.59,176.00 274.32,175.79 275.06,175.58 275.80,175.36 276.55,175.15 277.30,174.94 278.06,174.73 278.84,174.52 279.63,174.31 280.43,174.10 281.24,173.90 282.06,173.69 282.89,173.48 283.72,173.28 284.57,173.08 285.42,172.87 286.27,172.67 287.13,172.47 288.00,172.27 288.86,172.07 289.73,171.88 290.61,171.68 291.48,171.48 292.36,171.29 293.24,171.09 294.11,170.90 294.99,170.71 295.86,170.52 296.74,170.33 297.61,170.14 298.48,169.95 299.34,169.76 300.21,169.57 301.06,169.39 301.92,169.20 302.77,169.02 303.61,168.83 304.45,168.65 305.28,168.47 306.10,168.29 306.92,168.11 307.73,167.93 308.54,167.75 309.34,167.57 310.14,167.39 310.95,167.22 311.75,167.04 312.56,166.87 313.37,166.70 314.17,166.52 314.98,166.35 315.78,166.18 316.58,166.01 317.37,165.84 318.16,165.67 318.94,165.51 319.72,165.34 320.50,165.18 321.26,165.01 322.02,164.85 322.77,164.68 323.51,164.52 324.24,164.36 324.96,164.20 325.67,164.04 326.38,163.88 327.08,163.72 327.79,163.57 328.48,163.41 329.18,163.25 329.86,163.10 330.55,162.94 331.22,162.79 331.90,162.64 332.56,162.49 333.22,162.34 333.87,162.19 334.52,162.04 335.15,161.89 335.78,161.74 336.40,161.60 337.01,161.45 337.62,161.31 338.21,161.16 338.79,161.02 339.37,160.87 339.93,160.73 340.48,160.59 341.03,160.45 341.56,160.31 342.09,160.17 342.61,160.04 343.12,159.90 343.63,159.76 344.13,159.63 344.62,159.49 345.11,159.36 345.59,159.23 346.06,159.09 346.53,158.96 347.00,158.83 347.45,158.70 347.90,158.57 348.35,158.44 348.78,158.32 349.22,158.19 349.64,158.06 350.06,157.94 350.48,157.81 350.89,157.69 351.29,157.57 351.69,157.45 352.08,157.32 352.46,157.20 352.84,157.08 353.22,156.96 353.59,156.85 353.95,156.73 354.31,156.61 354.67,156.49 355.02,156.38 355.37,156.26 355.72,156.15 356.07,156.04 356.41,155.92 356.75,155.81 357.08,155.70 357.41,155.59 357.74,155.48 358.06,155.37 358.38,155.27 358.69,155.16 359.00,155.05 359.30,154.95 359.60,154.84 359.89,154.74 360.18,154.63 360.47,154.53 360.75,154.43 361.02,154.33 361.29,154.23 361.55,154.13 361.81,154.03 362.06,153.93 362.31,153.83 362.55,153.73 362.79,153.64 363.02,153.54 363.24,153.44 363.46,153.35 363.67,153.26 363.88,153.16 364.08,153.07 364.29,152.98 364.50,152.89 364.72,152.80 364.94,152.71 365.16,152.62 365.38,152.53 365.59,152.44 365.80,152.36 366.01,152.27 366.21,152.19 366.39,152.10 366.57,152.02 366.73,151.93 366.88,151.85 367.02,151.77 367.14,151.69 367.24,151.61 367.32,151.53 367.39,151.45 367.43,151.37 367.46,151.29 367.46,151.21 367.45,151.13 367.43,151.06 367.39,150.98 367.35,150.91 367.30,150.83 367.24,150.76 367.17,150.69 367.09,150.62 367.00,150.54 366.91,150.47 366.81,150.40 366.70,150.33 366.58,150.26 366.46,150.19 366.34,150.13 366.21,150.06 366.07,149.99 365.93,149.93 365.79,149.86 365.64,149.80 365.48,149.73 365.33,149.67 365.17,149.61 365.01,149.54 364.84,149.48 364.68,149.42 364.51,149.36 364.34,149.30 364.16,149.24 363.99,149.18 363.81,149.12 363.64,149.07 363.46,149.01 363.28,148.95 363.10,148.90 362.92,148.84 362.74,148.79 362.56,148.73 362.38,148.68 362.20,148.63 362.01,148.58 361.80,148.52 361.59,148.47 361.36,148.42 361.13,148.37 360.88,148.32 360.62,148.27 360.36,148.23 360.08,148.18 359.79,148.13 359.49,148.08 359.19,148.04 358.87,147.99 358.54,147.95 358.21,147.90 357.86,147.86 357.50,147.82 357.14,147.77 356.77,147.73 356.38,147.69 355.99,147.65 355.60,147.61 355.19,147.57 354.78,147.53 354.35,147.49 353.93,147.45 353.49,147.41 353.05,147.37 352.60,147.34 352.15,147.30 351.69,147.26 351.22,147.23 350.75,147.19 350.28,147.16 349.80,147.13 349.32,147.09 348.83,147.06 348.34,147.03 347.85,146.99 347.35,146.96 346.85,146.93 346.35,146.90 345.85,146.87 345.35,146.84 344.79,146.81 344.18,146.78 343.51,146.76 342.78,146.73 342.00,146.70 341.17,146.67 340.29,146.65 339.37,146.62 338.42,146.60 337.42,146.57 336.40,146.55 335.34,146.52 334.26,146.50 333.15,146.48 332.02,146.45 330.86,146.43 329.70,146.41 328.51,146.39 327.32,146.37 326.11,146.34 324.89,146.32 323.67,146.30 322.45,146.29 321.22,146.27 319.99,146.25 318.75,146.23 317.53,146.21 316.30,146.19 315.08,146.18 313.81,146.16 312.51,146.14 311.16,146.13 309.76,146.11 308.31,146.10 306.81,146.08 305.27,146.07 303.67,146.06 302.02,146.04 300.32,146.03 298.59,146.02 296.81,146.00 294.99,145.99 293.14,145.98 291.26,145.97 289.35,145.96 287.42,145.95 285.47,145.94 283.51,145.93 281.54,145.92 279.57,145.91 277.60,145.90 275.56,145.89 273.23,145.88 270.64,145.87 267.84,145.86 264.90,145.86 261.86,145.85 258.75,145.84 255.61,145.84 252.48,145.83 249.37,145.82 246.30,145.82 243.31,145.81 240.39,145.81 237.57,145.80 234.85,145.80 232.25,145.79 229.76,145.79 227.40,145.78 225.16,145.78 223.06,145.78 221.08,145.77 219.23,145.77 217.51,145.77 215.92,145.77 214.46,145.76 213.11,145.76 211.89,145.76 210.78,145.76 209.78,145.76 208.90,145.75 208.12,145.75 207.43,145.75 206.85,145.75 206.35,145.75 205.94,145.75 205.61,145.75 205.35,145.75 205.16,145.75 205.02,145.75 204.95,145.75 204.91,145.75 204.90,145.75" fill="none" stroke="#f88a2c" stroke-width="1.1" stroke-linejoin="round" stroke-linecap="round" /><polyline points="204.90,219.03 205.06,218.66 205.22,218.30 205.39,217.93 205.56,217.57 205.73,217.21 205.91,216.85 206.08,216.49 206.26,216.13 206.44,215.77 206.63,215.42 206.82,215.06 207.00,214.71 207.20,214.36 207.39,214.00 207.58,213.65 207.78,213.30 207.98,212.96 208.18,212.61 208.38,212.26 208.58,211.92 208.78,211.57 208.99,211.23 209.20,210.89 209.41,210.55 209.62,210.21 209.84,209.87 210.06,209.53 210.28,209.19 210.50,208.86 210.72,208.52 210.95,208.19 211.18,207.86 211.41,207.53 211.65,207.20 211.88,206.87 212.12,206.54 212.37,206.21 212.61,205.89 212.86,205.56 213.11,205.24 213.36,204.92 213.61,204.59 213.87,204.27 214.13,203.95 214.39,203.63 214.66,203.32 214.93,203.00 215.20,202.69 215.48,202.37 215.76,202.06 216.04,201.74 216.33,201.43 216.62,201.12 216.91,200.81 217.20,200.51 217.50,200.20 217.80,199.89 218.10,199.59 218.41,199.28 218.72,198.98 219.03,198.68 219.34,198.38 219.66,198.08 219.98,197.78 220.30,197.48 220.62,197.18 220.94,196.89 221.27,196.59 221.61,196.30 221.95,196.01 222.29,195.72 222.64,195.43 222.99,195.14 223.34,194.85 223.70,194.56 224.06,194.27 224.43,193.99 224.79,193.70 225.16,193.42 225.53,193.14 225.91,192.85 226.28,192.57 226.66,192.29 227.04,192.02 227.43,191.74 227.81,191.46 228.20,191.19 228.58,190.91 228.97,190.64 229.36,190.37 229.75,190.09 230.14,189.82 230.53,189.55 230.93,189.29 231.32,189.02 231.72,188.75 232.11,188.49 232.51,188.22 232.91,187.96 233.32,187.69 233.72,187.43 234.13,187.17 234.54,186.91 234.95,186.65 235.36,186.40 235.78,186.14 236.19,185.88 236.61,185.63 237.04,185.37 237.46,185.12 237.89,184.87 238.32,184.62 238.76,184.37 239.19,184.12 239.63,183.87 240.07,183.63 240.52,183.38 240.97,183.13 241.42,182.89 241.87,182.65 242.33,182.40 242.79,182.16 243.26,181.92 243.72,181.68 244.19,181.44 244.67,181.21 245.14,180.97 245.62,180.73 246.10,180.50 246.59,180.27 247.08,180.03 247.57,179.80 248.06,179.57 248.56,179.34 249.06,179.11 249.57,178.88 250.07,178.66 250.58,178.43 251.10,178.21 251.61,177.98 252.14,177.76 252.66,177.54 253.19,177.31 253.72,177.09 254.25,176.87 254.79,176.65 255.33,176.44 255.87,176.22 256.42,176.00 256.97,175.79 257.52,175.58 258.08,175.36 258.63,175.15 259.20,174.94 259.77,174.73 260.36,174.52 260.95,174.31 261.55,174.10 262.15,173.90 262.77,173.69 263.39,173.48 264.02,173.28 264.65,173.08 265.29,172.87 265.93,172.67 266.57,172.47 267.22,172.27 267.87,172.07 268.53,171.88 269.18,171.68 269.84,171.48 270.49,171.29 271.15,171.09 271.81,170.90 272.47,170.71 273.12,170.52 273.78,170.33 274.43,170.14 275.08,169.95 275.73,169.76 276.38,169.57 277.02,169.39 277.66,169.20 278.30,169.02 278.93,168.83 279.56,168.65 280.18,168.47 280.80,168.29 281.42,168.11 282.03,167.93 282.63,167.75 283.23,167.57 283.83,167.39 284.43,167.22 285.04,167.04 285.64,166.87 286.25,166.70 286.85,166.52 287.46,166.35 288.06,166.18 288.66,166.01 289.25,165.84 289.84,165.67 290.43,165.51 291.02,165.34 291.60,165.18 292.17,165.01 292.74,164.85 293.30,164.68 293.86,164.52 294.40,164.36 294.95,164.20 295.48,164.04 296.01,163.88 296.54,163.72 297.06,163.57 297.59,163.41 298.11,163.25 298.62,163.10 299.14,162.94 299.64,162.79 300.15,162.64 300.65,162.49 301.14,162.34 301.63,162.19 302.11,162.04 302.59,161.89 303.06,161.74 303.53,161.60 303.99,161.45 304.44,161.31 304.88,161.16 305.32,161.02 305.75,160.87 306.17,160.73 306.59,160.59 307.00,160.45 307.40,160.31 307.79,160.17 308.18,160.04 308.57,159.90 308.95,159.76 309.32,159.63 309.69,159.49 310.06,159.36 310.42,159.23 310.77,159.09 311.12,158.96 311.47,158.83 311.81,158.70 312.15,158.57 312.48,158.44 312.81,158.32 313.14,158.19 313.46,158.06 313.77,157.94 314.08,157.81 314.39,157.69 314.69,157.57 314.99,157.45 315.28,157.32 315.57,157.20 315.86,157.08 316.14,156.96 316.41,156.85 316.69,156.73 316.96,156.61 317.23,156.49 317.49,156.38 317.76,156.26 318.02,156.15 318.28,156.04 318.53,155.92 318.79,155.81 319.04,155.70 319.28,155.59 319.53,155.48 319.77,155.37 320.01,155.27 320.24,155.16 320.47,155.05 320.70,154.95 320.93,154.84 321.15,154.74 321.36,154.63 321.58,154.53 321.78,154.43 321.99,154.33 322.19,154.23 322.39,154.13 322.58,154.03 322.77,153.93 322.96,153.83 323.14,153.73 323.31,153.64 323.49,153.54 323.66,153.44 323.82,153.35 323.98,153.26 324.14,153.16 324.29,153.07 324.44,152.98 324.60,152.89 324.76,152.80 324.93,152.71 325.09,152.62 325.26,152.53 325.42,152.44 325.58,152.36 325.73,152.27 325.88,152.19 326.02,152.10 326.15,152.02 326.28,151.93 326.39,151.85 326.49,151.77 326.58,151.69 326.66,151.61 326.72,151.53 326.77,151.45 326.80,151.37 326.82,151.29 326.82,151.21 326.81,151.13 326.79,151.06 326.77,150.98 326.74,150.91 326.70,150.83 326.65,150.76 326.60,150.69 326.54,150.62 326.48,150.54 326.40,150.47 326.33,150.40 326.25,150.33 326.16,150.26 326.07,150.19 325.98,150.13 325.88,150.06 325.78,149.99 325.67,149.93 325.56,149.86 325.45,149.80 325.34,149.73 325.22,149.67 325.10,149.61 324.98,149.54 324.86,149.48 324.73,149.42 324.61,149.36 324.48,149.30 324.35,149.24 324.22,149.18 324.09,149.12 323.95,149.07 323.82,149.01 323.69,148.95 323.55,148.90 323.42,148.84 323.28,148.79 323.15,148.73 323.01,148.68 322.88,148.63 322.73,148.58 322.58,148.52 322.41,148.47 322.25,148.42 322.07,148.37 321.88,148.32 321.69,148.27 321.49,148.23 321.28,148.18 321.07,148.13 320.85,148.08 320.61,148.04 320.38,147.99 320.13,147.95 319.88,147.90 319.62,147.86 319.35,147.82 319.08,147.77 318.80,147.73 318.51,147.69 318.22,147.65 317.92,147.61 317.62,147.57 317.31,147.53 316.99,147.49 316.67,147.45 316.34,147.41 316.01,147.37 315.68,147.34 315.34,147.30 314.99,147.26 314.64,147.23 314.29,147.19 313.93,147.16 313.58,147.13 313.21,147.09 312.85,147.06 312.48,147.03 312.11,146.99 311.74,146.96 311.37,146.93 310.99,146.90 310.61,146.87 310.23,146.84 309.82,146.81 309.36,146.78 308.86,146.76 308.31,146.73 307.72,146.70 307.10,146.67 306.44,146.65 305.75,146.62 305.04,146.60 304.29,146.57 303.52,146.55 302.73,146.52 301.92,146.50 301.08,146.48 300.24,146.45 299.37,146.43 298.50,146.41 297.61,146.39 296.71,146.37 295.81,146.34 294.90,146.32 293.98,146.30 293.06,146.29 292.14,146.27 291.21,146.25 290.29,146.23 289.37,146.21 288.45,146.19 287.53,146.18 286.59,146.16 285.61,146.14 284.60,146.13 283.55,146.11 282.46,146.10 281.34,146.08 280.17,146.07 278.97,146.06 277.74,146.04 276.47,146.03 275.16,146.02 273.83,146.00 272.47,145.99 271.08,145.98 269.67,145.97 268.24,145.96 266.79,145.95 265.33,145.94 263.86,145.93 262.38,145.92 260.90,145.91 259.42,145.90 257.90,145.89 256.15,145.88 254.20,145.87 252.11,145.86 249.90,145.86 247.62,145.85 245.29,145.84 242.94,145.84 240.58,145.83 238.25,145.82 235.95,145.82 233.70,145.81 231.52,145.81 229.40,145.80 227.36,145.80 225.41,145.79 223.55,145.79 221.78,145.78 220.10,145.78 218.52,145.78 217.04,145.77 215.65,145.77 214.36,145.77 213.17,145.77 212.07,145.76 211.06,145.76 210.14,145.76 209.31,145.76 208.56,145.76 207.90,145.75 207.31,145.75 206.80,145.75 206.36,145.75 205.99,145.75 205.68,145.75 205.43,145.75 205.24,145.75 205.09,145.75 204.99,145.75 204.93,145.75 204.91,145.75 204.90,145.75" fill="none" stroke="#f04a5a" stroke-width="1.1" stroke-linejoin="round" stroke-linecap="round" /><polyline points="204.90,219.03 205.03,218.66 205.16,218.30 205.29,217.93 205.43,217.57 205.56,217.21 205.70,216.85 205.85,216.49 205.99,216.13 206.14,215.77 206.28,215.42 206.43,215.06 206.58,214.71 206.74,214.36 206.89,214.00 207.05,213.65 207.20,213.30 207.36,212.96 207.52,212.61 207.68,212.26 207.84,211.92 208.01,211.57 208.17,211.23 208.34,210.89 208.51,210.55 208.68,210.21 208.85,209.87 209.03,209.53 209.20,209.19 209.38,208.86 209.56,208.52 209.74,208.19 209.92,207.86 210.11,207.53 210.30,207.20 210.49,206.87 210.68,206.54 210.87,206.21 211.07,205.89 211.27,205.56 211.46,205.24 211.67,204.92 211.87,204.59 212.07,204.27 212.28,203.95 212.49,203.63 212.71,203.32 212.92,203.00 213.14,202.69 213.36,202.37 213.59,202.06 213.81,201.74 214.04,201.43 214.27,201.12 214.51,200.81 214.74,200.51 214.98,200.20 215.22,199.89 215.46,199.59 215.71,199.28 215.95,198.98 216.20,198.68 216.45,198.38 216.71,198.08 216.96,197.78 217.22,197.48 217.48,197.18 217.74,196.89 218.00,196.59 218.27,196.30 218.54,196.01 218.81,195.72 219.09,195.43 219.37,195.14 219.65,194.85 219.94,194.56 220.23,194.27 220.52,193.99 220.81,193.70 221.11,193.42 221.41,193.14 221.71,192.85 222.01,192.57 222.31,192.29 222.62,192.02 222.92,191.74 223.23,191.46 223.54,191.19 223.85,190.91 224.16,190.64 224.47,190.37 224.78,190.09 225.09,189.82 225.41,189.55 225.72,189.29 226.04,189.02 226.35,188.75 226.67,188.49 226.99,188.22 227.31,187.96 227.63,187.69 227.96,187.43 228.28,187.17 228.61,186.91 228.94,186.65 229.27,186.40 229.60,186.14 229.94,185.88 230.27,185.63 230.61,185.37 230.95,185.12 231.29,184.87 231.64,184.62 231.98,184.37 232.33,184.12 232.69,183.87 233.04,183.63 233.40,183.38 233.75,183.13 234.12,182.89 234.48,182.65 234.85,182.40 235.21,182.16 235.59,181.92 235.96,181.68 236.34,181.44 236.71,181.21 237.09,180.97 237.48,180.73 237.86,180.50 238.25,180.27 238.64,180.03 239.04,179.80 239.43,179.57 239.83,179.34 240.23,179.11 240.63,178.88 241.04,178.66 241.45,178.43 241.86,178.21 242.27,177.98 242.69,177.76 243.11,177.54 243.53,177.31 243.95,177.09 244.38,176.87 244.81,176.65 245.24,176.44 245.68,176.22 246.11,176.00 246.55,175.79 246.99,175.58 247.44,175.36 247.89,175.15 248.34,174.94 248.80,174.73 249.26,174.52 249.74,174.31 250.22,174.10 250.70,173.90 251.20,173.69 251.69,173.48 252.19,173.28 252.70,173.08 253.21,172.87 253.72,172.67 254.24,172.47 254.76,172.27 255.28,172.07 255.80,171.88 256.32,171.68 256.85,171.48 257.38,171.29 257.90,171.09 258.43,170.90 258.95,170.71 259.48,170.52 260.00,170.33 260.53,170.14 261.05,169.95 261.57,169.76 262.08,169.57 262.60,169.39 263.11,169.20 263.62,169.02 264.13,168.83 264.63,168.65 265.13,168.47 265.62,168.29 266.11,168.11 266.60,167.93 267.08,167.75 267.56,167.57 268.04,167.39 268.53,167.22 269.01,167.04 269.50,166.87 269.98,166.70 270.46,166.52 270.95,166.35 271.43,166.18 271.91,166.01 272.38,165.84 272.86,165.67 273.33,165.51 273.79,165.34 274.26,165.18 274.72,165.01 275.17,164.85 275.62,164.68 276.06,164.52 276.50,164.36 276.94,164.20 277.36,164.04 277.79,163.88 278.21,163.72 278.63,163.57 279.05,163.41 279.47,163.25 279.88,163.10 280.29,162.94 280.69,162.79 281.10,162.64 281.50,162.49 281.89,162.34 282.28,162.19 282.67,162.04 283.05,161.89 283.43,161.74 283.80,161.60 284.17,161.45 284.53,161.31 284.89,161.16 285.24,161.02 285.58,160.87 285.92,160.73 286.25,160.59 286.58,160.45 286.90,160.31 287.21,160.17 287.52,160.04 287.83,159.90 288.14,159.76 288.44,159.63 288.73,159.49 289.03,159.36 289.31,159.23 289.60,159.09 289.88,158.96 290.16,158.83 290.43,158.70 290.70,158.57 290.97,158.44 291.23,158.32 291.49,158.19 291.75,158.06 292.00,157.94 292.25,157.81 292.49,157.69 292.73,157.57 292.97,157.45 293.21,157.32 293.44,157.20 293.67,157.08 293.89,156.96 294.11,156.85 294.33,156.73 294.55,156.61 294.76,156.49 294.97,156.38 295.18,156.26 295.39,156.15 295.60,156.04 295.81,155.92 296.01,155.81 296.21,155.70 296.41,155.59 296.60,155.48 296.80,155.37 296.99,155.27 297.17,155.16 297.36,155.05 297.54,154.95 297.72,154.84 297.90,154.74 298.07,154.63 298.24,154.53 298.41,154.43 298.57,154.33 298.73,154.23 298.89,154.13 299.05,154.03 299.20,153.93 299.35,153.83 299.49,153.73 299.63,153.64 299.77,153.54 299.90,153.44 300.04,153.35 300.16,153.26 300.29,153.16 300.41,153.07 300.53,152.98 300.66,152.89 300.79,152.80 300.92,152.71 301.05,152.62 301.19,152.53 301.32,152.44 301.44,152.36 301.57,152.27 301.68,152.19 301.80,152.10 301.90,152.02 302.00,151.93 302.09,151.85 302.17,151.77 302.24,151.69 302.30,151.61 302.35,151.53 302.39,151.45 302.42,151.37 302.43,151.29 302.44,151.21 302.43,151.13 302.42,151.06 302.40,150.98 302.37,150.91 302.34,150.83 302.30,150.76 302.26,150.69 302.21,150.62 302.16,150.54 302.10,150.47 302.04,150.40 301.98,150.33 301.91,150.26 301.84,150.19 301.76,150.13 301.68,150.06 301.60,149.99 301.52,149.93 301.43,149.86 301.34,149.80 301.25,149.73 301.16,149.67 301.06,149.61 300.96,149.54 300.87,149.48 300.77,149.42 300.66,149.36 300.56,149.30 300.46,149.24 300.35,149.18 300.25,149.12 300.14,149.07 300.04,149.01 299.93,148.95 299.82,148.90 299.71,148.84 299.61,148.79 299.50,148.73 299.39,148.68 299.28,148.63 299.16,148.58 299.04,148.52 298.91,148.47 298.78,148.42 298.64,148.37 298.49,148.32 298.33,148.27 298.17,148.23 298.01,148.18 297.83,148.13 297.66,148.08 297.47,148.04 297.28,147.99 297.09,147.95 296.88,147.90 296.68,147.86 296.46,147.82 296.24,147.77 296.02,147.73 295.79,147.69 295.56,147.65 295.32,147.61 295.07,147.57 294.83,147.53 294.57,147.49 294.32,147.45 294.05,147.41 293.79,147.37 293.52,147.34 293.25,147.30 292.97,147.26 292.69,147.23 292.41,147.19 292.13,147.16 291.84,147.13 291.55,147.09 291.26,147.06 290.96,147.03 290.67,146.99 290.37,146.96 290.07,146.93 289.77,146.90 289.47,146.87 289.17,146.84 288.84,146.81 288.47,146.78 288.06,146.76 287.63,146.73 287.16,146.70 286.66,146.67 286.13,146.65 285.58,146.62 285.01,146.60 284.41,146.57 283.80,146.55 283.16,146.52 282.51,146.50 281.85,146.48 281.17,146.45 280.48,146.43 279.78,146.41 279.07,146.39 278.35,146.37 277.63,146.34 276.90,146.32 276.16,146.30 275.43,146.29 274.69,146.27 273.95,146.25 273.21,146.23 272.48,146.21 271.74,146.19 271.01,146.18 270.25,146.16 269.47,146.14 268.66,146.13 267.82,146.11 266.95,146.10 266.05,146.08 265.12,146.07 264.16,146.06 263.17,146.04 262.15,146.03 261.11,146.02 260.04,146.00 258.95,145.99 257.84,145.98 256.71,145.97 255.57,145.96 254.41,145.95 253.24,145.94 252.07,145.93 250.89,145.92 249.70,145.91 248.52,145.90 247.30,145.89 245.90,145.88 244.34,145.87 242.67,145.86 240.90,145.86 239.08,145.85 237.21,145.84 235.33,145.84 233.45,145.83 231.58,145.82 229.74,145.82 227.94,145.81 226.19,145.81 224.50,145.80 222.87,145.80 221.31,145.79 219.82,145.79 218.40,145.78 217.06,145.78 215.79,145.78 214.61,145.77 213.50,145.77 212.47,145.77 211.51,145.77 210.63,145.76 209.83,145.76 209.09,145.76 208.43,145.76 207.83,145.76 207.30,145.75 206.83,145.75 206.42,145.75 206.07,145.75 205.77,145.75 205.52,145.75 205.32,145.75 205.17,145.75 205.05,145.75 204.97,145.75 204.93,145.75 204.90,145.75 204.90,145.75" fill="none" stroke="#e02222" stroke-width="1.1" stroke-linejoin="round" stroke-linecap="round" /><polyline points="204.90,219.03 204.96,218.66 205.03,218.30 205.10,217.93 205.16,217.57 205.23,217.21 205.30,216.85 205.37,216.49 205.45,216.13 205.52,215.77 205.59,215.42 205.67,215.06 205.74,214.71 205.82,214.36 205.90,214.00 205.97,213.65 206.05,213.30 206.13,212.96 206.21,212.61 206.29,212.26 206.37,211.92 206.45,211.57 206.54,211.23 206.62,210.89 206.70,210.55 206.79,210.21 206.88,209.87 206.96,209.53 207.05,209.19 207.14,208.86 207.23,208.52 207.32,208.19 207.41,207.86 207.51,207.53 207.60,207.20 207.69,206.87 207.79,206.54 207.89,206.21 207.98,205.89 208.08,205.56 208.18,205.24 208.28,204.92 208.38,204.59 208.49,204.27 208.59,203.95 208.70,203.63 208.80,203.32 208.91,203.00 209.02,202.69 209.13,202.37 209.24,202.06 209.36,201.74 209.47,201.43 209.59,201.12 209.70,200.81 209.82,200.51 209.94,200.20 210.06,199.89 210.18,199.59 210.30,199.28 210.43,198.98 210.55,198.68 210.68,198.38 210.80,198.08 210.93,197.78 211.06,197.48 211.19,197.18 211.32,196.89 211.45,196.59 211.58,196.30 211.72,196.01 211.86,195.72 212.00,195.43 212.14,195.14 212.28,194.85 212.42,194.56 212.56,194.27 212.71,193.99 212.86,193.70 213.00,193.42 213.15,193.14 213.30,192.85 213.45,192.57 213.61,192.29 213.76,192.02 213.91,191.74 214.06,191.46 214.22,191.19 214.37,190.91 214.53,190.64 214.68,190.37 214.84,190.09 215.00,189.82 215.15,189.55 215.31,189.29 215.47,189.02 215.63,188.75 215.79,188.49 215.95,188.22 216.11,187.96 216.27,187.69 216.43,187.43 216.59,187.17 216.75,186.91 216.92,186.65 217.08,186.40 217.25,186.14 217.42,185.88 217.59,185.63 217.75,185.37 217.93,185.12 218.10,184.87 218.27,184.62 218.44,184.37 218.62,184.12 218.79,183.87 218.97,183.63 219.15,183.38 219.33,183.13 219.51,182.89 219.69,182.65 219.87,182.40 220.06,182.16 220.24,181.92 220.43,181.68 220.62,181.44 220.81,181.21 221.00,180.97 221.19,180.73 221.38,180.50 221.58,180.27 221.77,180.03 221.97,179.80 222.17,179.57 222.36,179.34 222.56,179.11 222.77,178.88 222.97,178.66 223.17,178.43 223.38,178.21 223.59,177.98 223.79,177.76 224.00,177.54 224.21,177.31 224.43,177.09 224.64,176.87 224.85,176.65 225.07,176.44 225.29,176.22 225.51,176.00 225.73,175.79 225.95,175.58 226.17,175.36 226.39,175.15 226.62,174.94 226.85,174.73 227.08,174.52 227.32,174.31 227.56,174.10 227.80,173.90 228.05,173.69 228.30,173.48 228.55,173.28 228.80,173.08 229.05,172.87 229.31,172.67 229.57,172.47 229.83,172.27 230.09,172.07 230.35,171.88 230.61,171.68 230.87,171.48 231.14,171.29 231.40,171.09 231.66,170.90 231.93,170.71 232.19,170.52 232.45,170.33 232.71,170.14 232.97,169.95 233.23,169.76 233.49,169.57 233.75,169.39 234.01,169.20 234.26,169.02 234.51,168.83 234.76,168.65 235.01,168.47 235.26,168.29 235.51,168.11 235.75,167.93 235.99,167.75 236.23,167.57 236.47,167.39 236.71,167.22 236.96,167.04 237.20,166.87 237.44,166.70 237.68,166.52 237.92,166.35 238.16,166.18 238.40,166.01 238.64,165.84 238.88,165.67 239.11,165.51 239.35,165.34 239.58,165.18 239.81,165.01 240.04,164.85 240.26,164.68 240.48,164.52 240.70,164.36 240.92,164.20 241.13,164.04 241.34,163.88 241.56,163.72 241.77,163.57 241.97,163.41 242.18,163.25 242.39,163.10 242.59,162.94 242.80,162.79 243.00,162.64 243.20,162.49 243.40,162.34 243.59,162.19 243.79,162.04 243.98,161.89 244.16,161.74 244.35,161.60 244.53,161.45 244.71,161.31 244.89,161.16 245.07,161.02 245.24,160.87 245.41,160.73 245.58,160.59 245.74,160.45 245.90,160.31 246.06,160.17 246.21,160.04 246.37,159.90 246.52,159.76 246.67,159.63 246.82,159.49 246.96,159.36 247.11,159.23 247.25,159.09 247.39,158.96 247.53,158.83 247.67,158.70 247.80,158.57 247.93,158.44 248.07,158.32 248.19,158.19 248.32,158.06 248.45,157.94 248.57,157.81 248.70,157.69 248.82,157.57 248.94,157.45 249.05,157.32 249.17,157.20 249.28,157.08 249.40,156.96 249.51,156.85 249.62,156.73 249.72,156.61 249.83,156.49 249.94,156.38 250.04,156.26 250.15,156.15 250.25,156.04 250.35,155.92 250.45,155.81 250.55,155.70 250.65,155.59 250.75,155.48 250.85,155.37 250.94,155.27 251.04,155.16 251.13,155.05 251.22,154.95 251.31,154.84 251.40,154.74 251.49,154.63 251.57,154.53 251.65,154.43 251.74,154.33 251.82,154.23 251.90,154.13 251.97,154.03 252.05,153.93 252.12,153.83 252.20,153.73 252.27,153.64 252.33,153.54 252.40,153.44 252.47,153.35 252.53,153.26 252.59,153.16 252.66,153.07 252.72,152.98 252.78,152.89 252.85,152.80 252.91,152.71 252.98,152.62 253.04,152.53 253.11,152.44 253.17,152.36 253.23,152.27 253.29,152.19 253.35,152.10 253.40,152.02 253.45,151.93 253.50,151.85 253.54,151.77 253.57,151.69 253.60,151.61 253.63,151.53 253.65,151.45 253.66,151.37 253.67,151.29 253.67,151.21 253.66,151.13 253.66,151.06 253.65,150.98 253.64,150.91 253.62,150.83 253.60,150.76 253.58,150.69 253.56,150.62 253.53,150.54 253.50,150.47 253.47,150.40 253.44,150.33 253.40,150.26 253.37,150.19 253.33,150.13 253.29,150.06 253.25,149.99 253.21,149.93 253.17,149.86 253.12,149.80 253.08,149.73 253.03,149.67 252.98,149.61 252.93,149.54 252.88,149.48 252.83,149.42 252.78,149.36 252.73,149.30 252.68,149.24 252.63,149.18 252.57,149.12 252.52,149.07 252.47,149.01 252.41,148.95 252.36,148.90 252.31,148.84 252.25,148.79 252.20,148.73 252.15,148.68 252.09,148.63 252.03,148.58 251.97,148.52 251.91,148.47 251.84,148.42 251.77,148.37 251.69,148.32 251.62,148.27 251.54,148.23 251.45,148.18 251.37,148.13 251.28,148.08 251.19,148.04 251.09,147.99 250.99,147.95 250.89,147.90 250.79,147.86 250.68,147.82 250.57,147.77 250.46,147.73 250.35,147.69 250.23,147.65 250.11,147.61 249.99,147.57 249.86,147.53 249.74,147.49 249.61,147.45 249.48,147.41 249.34,147.37 249.21,147.34 249.07,147.30 248.94,147.26 248.80,147.23 248.66,147.19 248.51,147.16 248.37,147.13 248.23,147.09 248.08,147.06 247.93,147.03 247.78,146.99 247.64,146.96 247.49,146.93 247.34,146.90 247.19,146.87 247.03,146.84 246.87,146.81 246.68,146.78 246.48,146.76 246.26,146.73 246.03,146.70 245.78,146.67 245.52,146.65 245.24,146.62 244.95,146.60 244.66,146.57 244.35,146.55 244.03,146.52 243.71,146.50 243.37,146.48 243.03,146.45 242.69,146.43 242.34,146.41 241.98,146.39 241.63,146.37 241.26,146.34 240.90,146.32 240.53,146.30 240.16,146.29 239.79,146.27 239.43,146.25 239.06,146.23 238.69,146.21 238.32,146.19 237.95,146.18 237.57,146.16 237.18,146.14 236.78,146.13 236.36,146.11 235.92,146.10 235.47,146.08 235.01,146.07 234.53,146.06 234.04,146.04 233.53,146.03 233.01,146.02 232.47,146.00 231.93,145.99 231.37,145.98 230.81,145.97 230.23,145.96 229.66,145.95 229.07,145.94 228.48,145.93 227.89,145.92 227.30,145.91 226.71,145.90 226.10,145.89 225.40,145.88 224.62,145.87 223.78,145.86 222.90,145.86 221.99,145.85 221.06,145.84 220.11,145.84 219.17,145.83 218.24,145.82 217.32,145.82 216.42,145.81 215.55,145.81 214.70,145.80 213.89,145.80 213.10,145.79 212.36,145.79 211.65,145.78 210.98,145.78 210.35,145.78 209.75,145.77 209.20,145.77 208.68,145.77 208.21,145.77 207.77,145.76 207.36,145.76 207.00,145.76 206.66,145.76 206.37,145.76 206.10,145.75 205.86,145.75 205.66,145.75 205.48,145.75 205.33,145.75 205.21,145.75 205.11,145.75 205.03,145.75 204.98,145.75 204.94,145.75 204.91,145.75 204.90,145.75 204.90,145.75" fill="none" stroke="#6a6ae2" stroke-width="1.1" stroke-linejoin="round" stroke-linecap="round" /><polyline points="204.90,219.03 204.94,218.66 204.99,218.30 205.03,217.93 205.08,217.57 205.12,217.21 205.17,216.85 205.22,216.49 205.26,216.13 205.31,215.77 205.36,215.42 205.41,215.06 205.46,214.71 205.51,214.36 205.56,214.00 205.62,213.65 205.67,213.30 205.72,212.96 205.77,212.61 205.83,212.26 205.88,211.92 205.94,211.57 205.99,211.23 206.05,210.89 206.10,210.55 206.16,210.21 206.22,209.87 206.28,209.53 206.33,209.19 206.39,208.86 206.45,208.52 206.51,208.19 206.57,207.86 206.64,207.53 206.70,207.20 206.76,206.87 206.83,206.54 206.89,206.21 206.96,205.89 207.02,205.56 207.09,205.24 207.16,204.92 207.22,204.59 207.29,204.27 207.36,203.95 207.43,203.63 207.50,203.32 207.57,203.00 207.65,202.69 207.72,202.37 207.80,202.06 207.87,201.74 207.95,201.43 208.02,201.12 208.10,200.81 208.18,200.51 208.26,200.20 208.34,199.89 208.42,199.59 208.50,199.28 208.58,198.98 208.67,198.68 208.75,198.38 208.84,198.08 208.92,197.78 209.01,197.48 209.09,197.18 209.18,196.89 209.27,196.59 209.36,196.30 209.45,196.01 209.54,195.72 209.63,195.43 209.72,195.14 209.82,194.85 209.91,194.56 210.01,194.27 210.11,193.99 210.20,193.70 210.30,193.42 210.40,193.14 210.50,192.85 210.60,192.57 210.70,192.29 210.81,192.02 210.91,191.74 211.01,191.46 211.11,191.19 211.22,190.91 211.32,190.64 211.42,190.37 211.53,190.09 211.63,189.82 211.74,189.55 211.84,189.29 211.95,189.02 212.05,188.75 212.16,188.49 212.26,188.22 212.37,187.96 212.48,187.69 212.59,187.43 212.69,187.17 212.80,186.91 212.91,186.65 213.02,186.40 213.13,186.14 213.25,185.88 213.36,185.63 213.47,185.37 213.58,185.12 213.70,184.87 213.81,184.62 213.93,184.37 214.04,184.12 214.16,183.87 214.28,183.63 214.40,183.38 214.52,183.13 214.64,182.89 214.76,182.65 214.88,182.40 215.00,182.16 215.13,181.92 215.25,181.68 215.38,181.44 215.50,181.21 215.63,180.97 215.76,180.73 215.89,180.50 216.02,180.27 216.15,180.03 216.28,179.80 216.41,179.57 216.54,179.34 216.68,179.11 216.81,178.88 216.95,178.66 217.08,178.43 217.22,178.21 217.36,177.98 217.50,177.76 217.64,177.54 217.78,177.31 217.92,177.09 218.06,176.87 218.20,176.65 218.35,176.44 218.49,176.22 218.64,176.00 218.78,175.79 218.93,175.58 219.08,175.36 219.23,175.15 219.38,174.94 219.53,174.73 219.69,174.52 219.85,174.31 220.01,174.10 220.17,173.90 220.33,173.69 220.50,173.48 220.66,173.28 220.83,173.08 221.00,172.87 221.17,172.67 221.35,172.47 221.52,172.27 221.69,172.07 221.87,171.88 222.04,171.68 222.22,171.48 222.39,171.29 222.57,171.09 222.74,170.90 222.92,170.71 223.09,170.52 223.27,170.33 223.44,170.14 223.62,169.95 223.79,169.76 223.96,169.57 224.13,169.39 224.30,169.20 224.47,169.02 224.64,168.83 224.81,168.65 224.98,168.47 225.14,168.29 225.30,168.11 225.47,167.93 225.63,167.75 225.79,167.57 225.95,167.39 226.11,167.22 226.27,167.04 226.43,166.87 226.59,166.70 226.75,166.52 226.92,166.35 227.08,166.18 227.24,166.01 227.39,165.84 227.55,165.67 227.71,165.51 227.86,165.34 228.02,165.18 228.17,165.01 228.32,164.85 228.47,164.68 228.62,164.52 228.77,164.36 228.91,164.20 229.05,164.04 229.20,163.88 229.34,163.72 229.48,163.57 229.62,163.41 229.76,163.25 229.89,163.10 230.03,162.94 230.16,162.79 230.30,162.64 230.43,162.49 230.56,162.34 230.69,162.19 230.82,162.04 230.95,161.89 231.08,161.74 231.20,161.60 231.32,161.45 231.44,161.31 231.56,161.16 231.68,161.02 231.79,160.87 231.91,160.73 232.02,160.59 232.13,160.45 232.23,160.31 232.34,160.17 232.44,160.04 232.54,159.90 232.65,159.76 232.75,159.63 232.84,159.49 232.94,159.36 233.04,159.23 233.13,159.09 233.23,158.96 233.32,158.83 233.41,158.70 233.50,158.57 233.59,158.44 233.68,158.32 233.76,158.19 233.85,158.06 233.93,157.94 234.02,157.81 234.10,157.69 234.18,157.57 234.26,157.45 234.34,157.32 234.41,157.20 234.49,157.08 234.56,156.96 234.64,156.85 234.71,156.73 234.78,156.61 234.85,156.49 234.92,156.38 234.99,156.26 235.06,156.15 235.13,156.04 235.20,155.92 235.27,155.81 235.34,155.70 235.40,155.59 235.47,155.48 235.53,155.37 235.60,155.27 235.66,155.16 235.72,155.05 235.78,154.95 235.84,154.84 235.90,154.74 235.96,154.63 236.01,154.53 236.07,154.43 236.12,154.33 236.18,154.23 236.23,154.13 236.28,154.03 236.33,153.93 236.38,153.83 236.43,153.73 236.48,153.64 236.52,153.54 236.57,153.44 236.61,153.35 236.65,153.26 236.70,153.16 236.74,153.07 236.78,152.98 236.82,152.89 236.86,152.80 236.91,152.71 236.95,152.62 237.00,152.53 237.04,152.44 237.08,152.36 237.12,152.27 237.16,152.19 237.20,152.10 237.23,152.02 237.27,151.93 237.30,151.85 237.32,151.77 237.35,151.69 237.37,151.61 237.38,151.53 237.40,151.45 237.41,151.37 237.41,151.29 237.41,151.21 237.41,151.13 237.41,151.06 237.40,150.98 237.39,150.91 237.38,150.83 237.37,150.76 237.35,150.69 237.34,150.62 237.32,150.54 237.30,150.47 237.28,150.40 237.26,150.33 237.24,150.26 237.21,150.19 237.19,150.13 237.16,150.06 237.13,149.99 237.11,149.93 237.08,149.86 237.05,149.80 237.02,149.73 236.99,149.67 236.95,149.61 236.92,149.54 236.89,149.48 236.86,149.42 236.82,149.36 236.79,149.30 236.75,149.24 236.72,149.18 236.68,149.12 236.65,149.07 236.61,149.01 236.58,148.95 236.54,148.90 236.50,148.84 236.47,148.79 236.43,148.73 236.40,148.68 236.36,148.63 236.32,148.58 236.28,148.52 236.24,148.47 236.19,148.42 236.15,148.37 236.10,148.32 236.04,148.27 235.99,148.23 235.94,148.18 235.88,148.13 235.82,148.08 235.76,148.04 235.69,147.99 235.63,147.95 235.56,147.90 235.49,147.86 235.42,147.82 235.35,147.77 235.27,147.73 235.20,147.69 235.12,147.65 235.04,147.61 234.96,147.57 234.88,147.53 234.79,147.49 234.71,147.45 234.62,147.41 234.53,147.37 234.44,147.34 234.35,147.30 234.26,147.26 234.16,147.23 234.07,147.19 233.98,147.16 233.88,147.13 233.78,147.09 233.69,147.06 233.59,147.03 233.49,146.99 233.39,146.96 233.29,146.93 233.19,146.90 233.09,146.87 232.99,146.84 232.88,146.81 232.76,146.78 232.62,146.76 232.48,146.73 232.32,146.70 232.15,146.67 231.98,146.65 231.79,146.62 231.60,146.60 231.40,146.57 231.20,146.55 230.99,146.52 230.77,146.50 230.55,146.48 230.32,146.45 230.09,146.43 229.86,146.41 229.62,146.39 229.38,146.37 229.14,146.34 228.90,146.32 228.65,146.30 228.41,146.29 228.16,146.27 227.92,146.25 227.67,146.23 227.43,146.21 227.18,146.19 226.94,146.18 226.68,146.16 226.42,146.14 226.15,146.13 225.87,146.11 225.58,146.10 225.28,146.08 224.97,146.07 224.65,146.06 224.32,146.04 223.98,146.03 223.64,146.02 223.28,146.00 222.92,145.99 222.55,145.98 222.17,145.97 221.79,145.96 221.40,145.95 221.01,145.94 220.62,145.93 220.23,145.92 219.83,145.91 219.44,145.90 219.03,145.89 218.57,145.88 218.05,145.87 217.49,145.86 216.90,145.86 216.29,145.85 215.67,145.84 215.04,145.84 214.42,145.83 213.79,145.82 213.18,145.82 212.58,145.81 212.00,145.81 211.43,145.80 210.89,145.80 210.37,145.79 209.87,145.79 209.40,145.78 208.95,145.78 208.53,145.78 208.14,145.77 207.77,145.77 207.42,145.77 207.10,145.77 206.81,145.76 206.54,145.76 206.30,145.76 206.08,145.76 205.88,145.76 205.70,145.75 205.54,145.75 205.41,145.75 205.29,145.75 205.19,145.75 205.11,145.75 205.04,145.75 204.99,145.75 204.95,145.75 204.92,145.75 204.91,145.75 204.90,145.75 204.90,145.75" fill="none" stroke="#2b2bc2" stroke-width="1.1" stroke-linejoin="round" stroke-linecap="round" /><polyline points="204.90,219.03 204.92,218.66 204.94,218.30 204.97,217.93 204.99,217.57 205.01,217.21 205.03,216.85 205.06,216.49 205.08,216.13 205.11,215.77 205.13,215.42 205.16,215.06 205.18,214.71 205.21,214.36 205.23,214.00 205.26,213.65 205.28,213.30 205.31,212.96 205.34,212.61 205.36,212.26 205.39,211.92 205.42,211.57 205.45,211.23 205.47,210.89 205.50,210.55 205.53,210.21 205.56,209.87 205.59,209.53 205.62,209.19 205.65,208.86 205.68,208.52 205.71,208.19 205.74,207.86 205.77,207.53 205.80,207.20 205.83,206.87 205.86,206.54 205.90,206.21 205.93,205.89 205.96,205.56 205.99,205.24 206.03,204.92 206.06,204.59 206.10,204.27 206.13,203.95 206.17,203.63 206.20,203.32 206.24,203.00 206.27,202.69 206.31,202.37 206.35,202.06 206.39,201.74 206.42,201.43 206.46,201.12 206.50,200.81 206.54,200.51 206.58,200.20 206.62,199.89 206.66,199.59 206.70,199.28 206.74,198.98 206.78,198.68 206.83,198.38 206.87,198.08 206.91,197.78 206.95,197.48 207.00,197.18 207.04,196.89 207.08,196.59 207.13,196.30 207.17,196.01 207.22,195.72 207.27,195.43 207.31,195.14 207.36,194.85 207.41,194.56 207.45,194.27 207.50,193.99 207.55,193.70 207.60,193.42 207.65,193.14 207.70,192.85 207.75,192.57 207.80,192.29 207.85,192.02 207.90,191.74 207.95,191.46 208.01,191.19 208.06,190.91 208.11,190.64 208.16,190.37 208.21,190.09 208.27,189.82 208.32,189.55 208.37,189.29 208.42,189.02 208.48,188.75 208.53,188.49 208.58,188.22 208.64,187.96 208.69,187.69 208.74,187.43 208.80,187.17 208.85,186.91 208.91,186.65 208.96,186.40 209.02,186.14 209.07,185.88 209.13,185.63 209.18,185.37 209.24,185.12 209.30,184.87 209.36,184.62 209.41,184.37 209.47,184.12 209.53,183.87 209.59,183.63 209.65,183.38 209.71,183.13 209.77,182.89 209.83,182.65 209.89,182.40 209.95,182.16 210.01,181.92 210.08,181.68 210.14,181.44 210.20,181.21 210.27,180.97 210.33,180.73 210.39,180.50 210.46,180.27 210.52,180.03 210.59,179.80 210.66,179.57 210.72,179.34 210.79,179.11 210.86,178.88 210.92,178.66 210.99,178.43 211.06,178.21 211.13,177.98 211.20,177.76 211.27,177.54 211.34,177.31 211.41,177.09 211.48,176.87 211.55,176.65 211.62,176.44 211.70,176.22 211.77,176.00 211.84,175.79 211.92,175.58 211.99,175.36 212.06,175.15 212.14,174.94 212.22,174.73 212.29,174.52 212.37,174.31 212.45,174.10 212.53,173.90 212.62,173.69 212.70,173.48 212.78,173.28 212.87,173.08 212.95,172.87 213.04,172.67 213.12,172.47 213.21,172.27 213.30,172.07 213.38,171.88 213.47,171.68 213.56,171.48 213.65,171.29 213.73,171.09 213.82,170.90 213.91,170.71 214.00,170.52 214.08,170.33 214.17,170.14 214.26,169.95 214.34,169.76 214.43,169.57 214.52,169.39 214.60,169.20 214.69,169.02 214.77,168.83 214.85,168.65 214.94,168.47 215.02,168.29 215.10,168.11 215.18,167.93 215.26,167.75 215.34,167.57 215.42,167.39 215.50,167.22 215.59,167.04 215.67,166.87 215.75,166.70 215.83,166.52 215.91,166.35 215.99,166.18 216.07,166.01 216.15,165.84 216.23,165.67 216.30,165.51 216.38,165.34 216.46,165.18 216.54,165.01 216.61,164.85 216.69,164.68 216.76,164.52 216.83,164.36 216.91,164.20 216.98,164.04 217.05,163.88 217.12,163.72 217.19,163.57 217.26,163.41 217.33,163.25 217.40,163.10 217.46,162.94 217.53,162.79 217.60,162.64 217.67,162.49 217.73,162.34 217.80,162.19 217.86,162.04 217.93,161.89 217.99,161.74 218.05,161.60 218.11,161.45 218.17,161.31 218.23,161.16 218.29,161.02 218.35,160.87 218.40,160.73 218.46,160.59 218.51,160.45 218.57,160.31 218.62,160.17 218.67,160.04 218.72,159.90 218.77,159.76 218.82,159.63 218.87,159.49 218.92,159.36 218.97,159.23 219.02,159.09 219.06,158.96 219.11,158.83 219.16,158.70 219.20,158.57 219.24,158.44 219.29,158.32 219.33,158.19 219.37,158.06 219.42,157.94 219.46,157.81 219.50,157.69 219.54,157.57 219.58,157.45 219.62,157.32 219.66,157.20 219.69,157.08 219.73,156.96 219.77,156.85 219.81,156.73 219.84,156.61 219.88,156.49 219.91,156.38 219.95,156.26 219.98,156.15 220.02,156.04 220.05,155.92 220.08,155.81 220.12,155.70 220.15,155.59 220.18,155.48 220.22,155.37 220.25,155.27 220.28,155.16 220.31,155.05 220.34,154.95 220.37,154.84 220.40,154.74 220.43,154.63 220.46,154.53 220.48,154.43 220.51,154.33 220.54,154.23 220.57,154.13 220.59,154.03 220.62,153.93 220.64,153.83 220.67,153.73 220.69,153.64 220.71,153.54 220.73,153.44 220.76,153.35 220.78,153.26 220.80,153.16 220.82,153.07 220.84,152.98 220.86,152.89 220.88,152.80 220.90,152.71 220.93,152.62 220.95,152.53 220.97,152.44 220.99,152.36 221.01,152.27 221.03,152.19 221.05,152.10 221.07,152.02 221.08,151.93 221.10,151.85 221.11,151.77 221.12,151.69 221.13,151.61 221.14,151.53 221.15,151.45 221.15,151.37 221.16,151.29 221.16,151.21 221.15,151.13 221.15,151.06 221.15,150.98 221.15,150.91 221.14,150.83 221.13,150.76 221.13,150.69 221.12,150.62 221.11,150.54 221.10,150.47 221.09,150.40 221.08,150.33 221.07,150.26 221.06,150.19 221.04,150.13 221.03,150.06 221.02,149.99 221.00,149.93 220.99,149.86 220.97,149.80 220.96,149.73 220.94,149.67 220.93,149.61 220.91,149.54 220.89,149.48 220.88,149.42 220.86,149.36 220.84,149.30 220.83,149.24 220.81,149.18 220.79,149.12 220.77,149.07 220.76,149.01 220.74,148.95 220.72,148.90 220.70,148.84 220.68,148.79 220.67,148.73 220.65,148.68 220.63,148.63 220.61,148.58 220.59,148.52 220.57,148.47 220.55,148.42 220.52,148.37 220.50,148.32 220.47,148.27 220.45,148.23 220.42,148.18 220.39,148.13 220.36,148.08 220.33,148.04 220.30,147.99 220.26,147.95 220.23,147.90 220.20,147.86 220.16,147.82 220.12,147.77 220.09,147.73 220.05,147.69 220.01,147.65 219.97,147.61 219.93,147.57 219.89,147.53 219.85,147.49 219.80,147.45 219.76,147.41 219.71,147.37 219.67,147.34 219.62,147.30 219.58,147.26 219.53,147.23 219.49,147.19 219.44,147.16 219.39,147.13 219.34,147.09 219.29,147.06 219.24,147.03 219.19,146.99 219.15,146.96 219.10,146.93 219.05,146.90 219.00,146.87 218.94,146.84 218.89,146.81 218.83,146.78 218.76,146.76 218.69,146.73 218.61,146.70 218.53,146.67 218.44,146.65 218.35,146.62 218.25,146.60 218.15,146.57 218.05,146.55 217.94,146.52 217.84,146.50 217.72,146.48 217.61,146.45 217.50,146.43 217.38,146.41 217.26,146.39 217.14,146.37 217.02,146.34 216.90,146.32 216.78,146.30 216.65,146.29 216.53,146.27 216.41,146.25 216.29,146.23 216.16,146.21 216.04,146.19 215.92,146.18 215.79,146.16 215.66,146.14 215.53,146.13 215.39,146.11 215.24,146.10 215.09,146.08 214.94,146.07 214.78,146.06 214.61,146.04 214.44,146.03 214.27,146.02 214.09,146.00 213.91,145.99 213.72,145.98 213.54,145.97 213.34,145.96 213.15,145.95 212.96,145.94 212.76,145.93 212.56,145.92 212.37,145.91 212.17,145.90 211.97,145.89 211.73,145.88 211.47,145.87 211.19,145.86 210.90,145.86 210.60,145.85 210.29,145.84 209.97,145.84 209.66,145.83 209.35,145.82 209.04,145.82 208.74,145.81 208.45,145.81 208.17,145.80 207.90,145.80 207.63,145.79 207.39,145.79 207.15,145.78 206.93,145.78 206.72,145.78 206.52,145.77 206.33,145.77 206.16,145.77 206.00,145.77 205.86,145.76 205.72,145.76 205.60,145.76 205.49,145.76 205.39,145.76 205.30,145.75 205.22,145.75 205.15,145.75 205.09,145.75 205.04,145.75 205.00,145.75 204.97,145.75 204.94,145.75 204.93,145.75 204.91,145.75 204.90,145.75 204.90,145.75 204.90,145.75" fill="none" stroke="#4aa8f8" stroke-width="1.1" stroke-linejoin="round" stroke-linecap="round" /><polyline points="204.90,219.03 204.92,218.66 204.94,218.30 204.96,217.93 204.98,217.57 204.99,217.21 205.01,216.85 205.04,216.49 205.06,216.13 205.08,215.77 205.10,215.42 205.12,215.06 205.14,214.71 205.16,214.36 205.18,214.00 205.21,213.65 205.23,213.30 205.25,212.96 205.27,212.61 205.30,212.26 205.32,211.92 205.34,211.57 205.37,211.23 205.39,210.89 205.42,210.55 205.44,210.21 205.46,209.87 205.49,209.53 205.51,209.19 205.54,208.86 205.57,208.52 205.59,208.19 205.62,207.86 205.64,207.53 205.67,207.20 205.70,206.87 205.73,206.54 205.75,206.21 205.78,205.89 205.81,205.56 205.84,205.24 205.87,204.92 205.90,204.59 205.92,204.27 205.95,203.95 205.98,203.63 206.02,203.32 206.05,203.00 206.08,202.69 206.11,202.37 206.14,202.06 206.17,201.74 206.21,201.43 206.24,201.12 206.27,200.81 206.31,200.51 206.34,200.20 206.37,199.89 206.41,199.59 206.44,199.28 206.48,198.98 206.51,198.68 206.55,198.38 206.59,198.08 206.62,197.78 206.66,197.48 206.70,197.18 206.73,196.89 206.77,196.59 206.81,196.30 206.85,196.01 206.89,195.72 206.93,195.43 206.97,195.14 207.01,194.85 207.05,194.56 207.09,194.27 207.13,193.99 207.17,193.70 207.22,193.42 207.26,193.14 207.30,192.85 207.34,192.57 207.39,192.29 207.43,192.02 207.47,191.74 207.52,191.46 207.56,191.19 207.61,190.91 207.65,190.64 207.70,190.37 207.74,190.09 207.78,189.82 207.83,189.55 207.87,189.29 207.92,189.02 207.96,188.75 208.01,188.49 208.06,188.22 208.10,187.96 208.15,187.69 208.19,187.43 208.24,187.17 208.29,186.91 208.33,186.65 208.38,186.40 208.43,186.14 208.48,185.88 208.52,185.63 208.57,185.37 208.62,185.12 208.67,184.87 208.72,184.62 208.77,184.37 208.82,184.12 208.87,183.87 208.92,183.63 208.97,183.38 209.02,183.13 209.07,182.89 209.13,182.65 209.18,182.40 209.23,182.16 209.28,181.92 209.34,181.68 209.39,181.44 209.44,181.21 209.50,180.97 209.55,180.73 209.61,180.50 209.66,180.27 209.72,180.03 209.78,179.80 209.83,179.57 209.89,179.34 209.95,179.11 210.00,178.88 210.06,178.66 210.12,178.43 210.18,178.21 210.24,177.98 210.30,177.76 210.36,177.54 210.42,177.31 210.48,177.09 210.54,176.87 210.60,176.65 210.66,176.44 210.73,176.22 210.79,176.00 210.85,175.79 210.91,175.58 210.98,175.36 211.04,175.15 211.11,174.94 211.17,174.73 211.24,174.52 211.31,174.31 211.37,174.10 211.44,173.90 211.51,173.69 211.58,173.48 211.66,173.28 211.73,173.08 211.80,172.87 211.87,172.67 211.95,172.47 212.02,172.27 212.10,172.07 212.17,171.88 212.25,171.68 212.32,171.48 212.40,171.29 212.47,171.09 212.55,170.90 212.62,170.71 212.70,170.52 212.77,170.33 212.85,170.14 212.92,169.95 213.00,169.76 213.07,169.57 213.14,169.39 213.22,169.20 213.29,169.02 213.36,168.83 213.43,168.65 213.50,168.47 213.57,168.29 213.64,168.11 213.71,167.93 213.78,167.75 213.85,167.57 213.92,167.39 213.99,167.22 214.06,167.04 214.13,166.87 214.20,166.70 214.27,166.52 214.34,166.35 214.40,166.18 214.47,166.01 214.54,165.84 214.61,165.67 214.68,165.51 214.74,165.34 214.81,165.18 214.87,165.01 214.94,164.85 215.00,164.68 215.07,164.52 215.13,164.36 215.19,164.20 215.25,164.04 215.31,163.88 215.37,163.72 215.43,163.57 215.49,163.41 215.55,163.25 215.61,163.10 215.67,162.94 215.73,162.79 215.79,162.64 215.84,162.49 215.90,162.34 215.95,162.19 216.01,162.04 216.06,161.89 216.12,161.74 216.17,161.60 216.22,161.45 216.28,161.31 216.33,161.16 216.38,161.02 216.43,160.87 216.47,160.73 216.52,160.59 216.57,160.45 216.61,160.31 216.66,160.17 216.70,160.04 216.75,159.90 216.79,159.76 216.83,159.63 216.88,159.49 216.92,159.36 216.96,159.23 217.00,159.09 217.04,158.96 217.08,158.83 217.12,158.70 217.16,158.57 217.20,158.44 217.23,158.32 217.27,158.19 217.31,158.06 217.34,157.94 217.38,157.81 217.41,157.69 217.45,157.57 217.48,157.45 217.52,157.32 217.55,157.20 217.58,157.08 217.61,156.96 217.64,156.85 217.68,156.73 217.71,156.61 217.74,156.49 217.77,156.38 217.80,156.26 217.83,156.15 217.86,156.04 217.89,155.92 217.92,155.81 217.94,155.70 217.97,155.59 218.00,155.48 218.03,155.37 218.06,155.27 218.08,155.16 218.11,155.05 218.13,154.95 218.16,154.84 218.19,154.74 218.21,154.63 218.23,154.53 218.26,154.43 218.28,154.33 218.30,154.23 218.33,154.13 218.35,154.03 218.37,153.93 218.39,153.83 218.41,153.73 218.43,153.64 218.45,153.54 218.47,153.44 218.49,153.35 218.51,153.26 218.53,153.16 218.54,153.07 218.56,152.98 218.58,152.89 218.60,152.80 218.62,152.71 218.64,152.62 218.66,152.53 218.67,152.44 218.69,152.36 218.71,152.27 218.73,152.19 218.74,152.10 218.76,152.02 218.77,151.93 218.78,151.85 218.80,151.77 218.81,151.69 218.81,151.61 218.82,151.53 218.83,151.45 218.83,151.37 218.83,151.29 218.83,151.21 218.83,151.13 218.83,151.06 218.83,150.98 218.82,150.91 218.82,150.83 218.81,150.76 218.81,150.69 218.80,150.62 218.79,150.54 218.79,150.47 218.78,150.40 218.77,150.33 218.76,150.26 218.75,150.19 218.74,150.13 218.73,150.06 218.71,149.99 218.70,149.93 218.69,149.86 218.68,149.80 218.66,149.73 218.65,149.67 218.64,149.61 218.62,149.54 218.61,149.48 218.60,149.42 218.58,149.36 218.57,149.30 218.55,149.24 218.54,149.18 218.52,149.12 218.51,149.07 218.49,149.01 218.48,148.95 218.46,148.90 218.44,148.84 218.43,148.79 218.41,148.73 218.40,148.68 218.38,148.63 218.37,148.58 218.35,148.52 218.33,148.47 218.31,148.42 218.29,148.37 218.27,148.32 218.25,148.27 218.22,148.23 218.20,148.18 218.18,148.13 218.15,148.08 218.12,148.04 218.10,147.99 218.07,147.95 218.04,147.90 218.01,147.86 217.98,147.82 217.95,147.77 217.92,147.73 217.88,147.69 217.85,147.65 217.82,147.61 217.78,147.57 217.75,147.53 217.71,147.49 217.67,147.45 217.64,147.41 217.60,147.37 217.56,147.34 217.52,147.30 217.48,147.26 217.44,147.23 217.40,147.19 217.36,147.16 217.32,147.13 217.28,147.09 217.24,147.06 217.19,147.03 217.15,146.99 217.11,146.96 217.07,146.93 217.02,146.90 216.98,146.87 216.94,146.84 216.89,146.81 216.84,146.78 216.78,146.76 216.72,146.73 216.65,146.70 216.58,146.67 216.50,146.65 216.43,146.62 216.34,146.60 216.26,146.57 216.17,146.55 216.08,146.52 215.99,146.50 215.89,146.48 215.80,146.45 215.70,146.43 215.60,146.41 215.50,146.39 215.39,146.37 215.29,146.34 215.19,146.32 215.08,146.30 214.98,146.29 214.87,146.27 214.76,146.25 214.66,146.23 214.55,146.21 214.45,146.19 214.34,146.18 214.24,146.16 214.12,146.14 214.01,146.13 213.89,146.11 213.76,146.10 213.64,146.08 213.50,146.07 213.37,146.06 213.22,146.04 213.08,146.03 212.93,146.02 212.78,146.00 212.62,145.99 212.46,145.98 212.30,145.97 212.14,145.96 211.97,145.95 211.81,145.94 211.64,145.93 211.47,145.92 211.30,145.91 211.13,145.90 210.96,145.89 210.76,145.88 210.53,145.87 210.30,145.86 210.04,145.86 209.78,145.85 209.52,145.84 209.25,145.84 208.98,145.83 208.71,145.82 208.45,145.82 208.19,145.81 207.94,145.81 207.70,145.80 207.47,145.80 207.24,145.79 207.03,145.79 206.83,145.78 206.64,145.78 206.46,145.78 206.29,145.77 206.13,145.77 205.98,145.77 205.84,145.77 205.72,145.76 205.60,145.76 205.50,145.76 205.40,145.76 205.32,145.76 205.24,145.75 205.18,145.75 205.12,145.75 205.07,145.75 205.02,145.75 204.99,145.75 204.96,145.75 204.94,145.75 204.92,145.75 204.91,145.75 204.90,145.75 204.90,145.75 204.90,145.75" fill="none" stroke="#1e84ee" stroke-width="1.1" stroke-linejoin="round" stroke-linecap="round" /></g><line x1="204.90" y1="145.00" x2="357.30" y2="145.00" stroke="#f5b030" stroke-width="0.8" stroke-dasharray="2.2,1.8"/><text transform="translate(268.00,168.30) rotate(-14)" font-size="6.0" fill="#e02222" text-anchor="middle" stroke="#fff" stroke-width="1.8" paint-order="stroke">100 nm</text><text transform="translate(299.50,163.60) rotate(-10)" font-size="6.0" fill="#f04a5a" text-anchor="middle" stroke="#fff" stroke-width="1.8" paint-order="stroke">80 nm</text><text transform="translate(325.00,162.20) rotate(-9)" font-size="6.0" fill="#f88a2c" text-anchor="middle" stroke="#fff" stroke-width="1.8" paint-order="stroke">60 nm</text><text transform="translate(267.80,188.00) rotate(-11)" font-size="6.0" fill="#f8aa6a" text-anchor="middle" stroke="#fff" stroke-width="1.8" paint-order="stroke">40 nm</text><text transform="translate(280.50,197.30) rotate(-8)" font-size="6.0" fill="#f8d028" text-anchor="middle" stroke="#fff" stroke-width="1.8" paint-order="stroke">20 nm</text><text transform="translate(239.40,166.20) rotate(-37)" font-size="6.0" fill="#6a6ae2" text-anchor="middle" stroke="#fff" stroke-width="1.8" paint-order="stroke">200 nm</text><text transform="translate(226.40,167.00) rotate(-46)" font-size="6.0" fill="#2b2bc2" text-anchor="middle" stroke="#fff" stroke-width="1.8" paint-order="stroke">300 nm</text><text transform="translate(222.00,159.00) rotate(-66)" font-size="6.0" fill="#4aa8f8" text-anchor="middle" stroke="#fff" stroke-width="1.8" paint-order="stroke">600 nm</text><text transform="translate(210.00,166.00) rotate(-65)" font-size="6.0" fill="#1e84ee" text-anchor="middle" stroke="#fff" stroke-width="1.8" paint-order="stroke">700 nm</text><rect x="204.9" y="132.3" width="152.40" height="95.50" fill="none" stroke="#8a8a8a" stroke-width="0.8"/><line x1="204.90" y1="222.20" x2="206.50" y2="222.20" stroke="#777" stroke-width="0.7" /><text x="201.80" y="225.40" font-size="9.2" fill="#333" text-anchor="end" font-weight="normal" >50</text><line x1="204.90" y1="208.40" x2="206.50" y2="208.40" stroke="#777" stroke-width="0.7" /><text x="201.80" y="211.60" font-size="9.2" fill="#333" text-anchor="end" font-weight="normal" >60</text><line x1="204.90" y1="194.60" x2="206.50" y2="194.60" stroke="#777" stroke-width="0.7" /><text x="201.80" y="197.80" font-size="9.2" fill="#333" text-anchor="end" font-weight="normal" >70</text><line x1="204.90" y1="180.80" x2="206.50" y2="180.80" stroke="#777" stroke-width="0.7" /><text x="201.80" y="184.00" font-size="9.2" fill="#333" text-anchor="end" font-weight="normal" >80</text><line x1="204.90" y1="167.00" x2="206.50" y2="167.00" stroke="#777" stroke-width="0.7" /><text x="201.80" y="170.20" font-size="9.2" fill="#333" text-anchor="end" font-weight="normal" >90</text><line x1="204.90" y1="153.20" x2="206.50" y2="153.20" stroke="#777" stroke-width="0.7" /><text x="201.80" y="156.40" font-size="9.2" fill="#333" text-anchor="end" font-weight="normal" >100</text><line x1="204.90" y1="139.40" x2="206.50" y2="139.40" stroke="#777" stroke-width="0.7" /><text x="201.80" y="142.60" font-size="9.2" fill="#333" text-anchor="end" font-weight="normal" >110</text><line x1="355.70" y1="222.15" x2="357.30" y2="222.15" stroke="#777" stroke-width="0.7" /><text x="359.60" y="225.35" font-size="9.2" fill="#333" text-anchor="start" font-weight="normal" >1.5</text><line x1="355.70" y1="199.14" x2="357.30" y2="199.14" stroke="#777" stroke-width="0.7" /><text x="359.60" y="202.34" font-size="9.2" fill="#333" text-anchor="start" font-weight="normal" >2.0</text><line x1="355.70" y1="176.12" x2="357.30" y2="176.12" stroke="#777" stroke-width="0.7" /><text x="359.60" y="179.32" font-size="9.2" fill="#333" text-anchor="start" font-weight="normal" >2.5</text><line x1="355.70" y1="153.11" x2="357.30" y2="153.11" stroke="#777" stroke-width="0.7" /><text x="359.60" y="156.31" font-size="9.2" fill="#333" text-anchor="start" font-weight="normal" >3.0</text><line x1="204.90" y1="227.80" x2="204.90" y2="226.20" stroke="#777" stroke-width="0.7" /><text x="204.90" y="238.20" font-size="9.2" fill="#333" text-anchor="middle" font-weight="normal" >0</text><line x1="230.30" y1="227.80" x2="230.30" y2="226.20" stroke="#777" stroke-width="0.7" /><text x="230.30" y="238.20" font-size="9.2" fill="#333" text-anchor="middle" font-weight="normal" >1</text><line x1="255.70" y1="227.80" x2="255.70" y2="226.20" stroke="#777" stroke-width="0.7" /><text x="255.70" y="238.20" font-size="9.2" fill="#333" text-anchor="middle" font-weight="normal" >2</text><line x1="281.10" y1="227.80" x2="281.10" y2="226.20" stroke="#777" stroke-width="0.7" /><text x="281.10" y="238.20" font-size="9.2" fill="#333" text-anchor="middle" font-weight="normal" >3</text><line x1="306.50" y1="227.80" x2="306.50" y2="226.20" stroke="#777" stroke-width="0.7" /><text x="306.50" y="238.20" font-size="9.2" fill="#333" text-anchor="middle" font-weight="normal" >4</text><line x1="331.90" y1="227.80" x2="331.90" y2="226.20" stroke="#777" stroke-width="0.7" /><text x="331.90" y="238.20" font-size="9.2" fill="#333" text-anchor="middle" font-weight="normal" >5</text><line x1="357.30" y1="227.80" x2="357.30" y2="226.20" stroke="#777" stroke-width="0.7" /><text x="357.30" y="238.20" font-size="9.2" fill="#333" text-anchor="middle" font-weight="normal" >6</text><text x="282.40" y="248.00" font-size="9" fill="#333" text-anchor="middle" font-weight="normal" >q (10<tspan font-size="5.5" dy="-3">5</tspan><tspan dy="3"> cm</tspan><tspan font-size="5.5" dy="-3">-1</tspan><tspan dy="3">)</tspan></text><text x="0.00" y="0.00" font-size="9.9" fill="#333" text-anchor="middle" font-weight="normal" transform="translate(185.3,181.6) rotate(-90)">Wavenumber (cm<tspan font-size="5.5" dy="-3">-1</tspan><tspan dy="3">)</tspan></text><text x="0.00" y="0.00" font-size="9.5" fill="#333" text-anchor="middle" font-weight="normal" transform="translate(375.4,182.9) rotate(90)">Frequency (THz)</text><text x="330.70" y="141.60" font-size="7.6" fill="#333" text-anchor="start" font-weight="normal" >ν<tspan font-size="4.5" dy="1.2">Eu</tspan><tspan dy="-1.2">(LO)</tspan></text><text x="330.90" y="215.80" font-size="7.6" fill="#333" text-anchor="start" font-weight="normal" >ν<tspan font-size="4.5" dy="1.2">Eu</tspan><tspan dy="-1.2">(TO)</tspan></text><rect x="329.50" y="173.40" width="22.50" height="4.00" fill="#fff" /><text x="340.70" y="177.00" font-size="4.6" fill="#444" text-anchor="middle" font-weight="normal" >laser line</text><line x1="226.61" y1="258.20" x2="226.61" y2="313.60" stroke="#e2e2e2" stroke-width="0.6" /><line x1="248.43" y1="258.20" x2="248.43" y2="313.60" stroke="#e2e2e2" stroke-width="0.6" /><line x1="270.24" y1="258.20" x2="270.24" y2="313.60" stroke="#e2e2e2" stroke-width="0.6" /><line x1="292.06" y1="258.20" x2="292.06" y2="313.60" stroke="#e2e2e2" stroke-width="0.6" /><line x1="313.87" y1="258.20" x2="313.87" y2="313.60" stroke="#e2e2e2" stroke-width="0.6" /><line x1="335.69" y1="258.20" x2="335.69" y2="313.60" stroke="#e2e2e2" stroke-width="0.6" /><line x1="204.80" y1="295.13" x2="357.50" y2="295.13" stroke="#e2e2e2" stroke-width="0.6" /><line x1="204.80" y1="276.67" x2="357.50" y2="276.67" stroke="#e2e2e2" stroke-width="0.6" /><line x1="204.80" y1="313.60" x2="357.50" y2="266.00" stroke="#e8242c" stroke-width="1.3" /><circle cx="236.21" cy="304.90" r="2.8" fill="#fff" stroke="#444" stroke-width="0.7"/><circle cx="242.32" cy="302.60" r="2.8" fill="#fff" stroke="#444" stroke-width="0.7"/><circle cx="247.99" cy="299.10" r="2.8" fill="#fff" stroke="#444" stroke-width="0.7"/><circle cx="259.34" cy="297.60" r="2.8" fill="#fff" stroke="#444" stroke-width="0.7"/><circle cx="278.97" cy="287.40" r="2.8" fill="#fff" stroke="#444" stroke-width="0.7"/><circle cx="347.68" cy="267.50" r="2.8" fill="#fff" stroke="#444" stroke-width="0.7"/><rect x="204.8" y="258.2" width="152.70" height="55.40" fill="none" stroke="#8a8a8a" stroke-width="0.8"/><line x1="204.80" y1="313.60" x2="206.40" y2="313.60" stroke="#777" stroke-width="0.7" /><text x="201.60" y="316.80" font-size="9.2" fill="#333" text-anchor="end" font-weight="normal" >0</text><line x1="204.80" y1="295.13" x2="206.40" y2="295.13" stroke="#777" stroke-width="0.7" /><text x="201.60" y="298.33" font-size="9.2" fill="#333" text-anchor="end" font-weight="normal" >1</text><line x1="204.80" y1="276.67" x2="206.40" y2="276.67" stroke="#777" stroke-width="0.7" /><text x="201.60" y="279.87" font-size="9.2" fill="#333" text-anchor="end" font-weight="normal" >2</text><line x1="204.80" y1="258.20" x2="206.40" y2="258.20" stroke="#777" stroke-width="0.7" /><text x="201.60" y="261.40" font-size="9.2" fill="#333" text-anchor="end" font-weight="normal" >3</text><text x="204.80" y="323.70" font-size="9.2" fill="#333" text-anchor="middle" font-weight="normal" >0</text><text x="248.43" y="323.70" font-size="9.2" fill="#333" text-anchor="middle" font-weight="normal" >200</text><text x="292.06" y="323.70" font-size="9.2" fill="#333" text-anchor="middle" font-weight="normal" >400</text><text x="335.69" y="323.70" font-size="9.2" fill="#333" text-anchor="middle" font-weight="normal" >600</text><line x1="204.80" y1="313.60" x2="204.80" y2="312.00" stroke="#777" stroke-width="0.7" /><line x1="226.61" y1="313.60" x2="226.61" y2="312.00" stroke="#777" stroke-width="0.7" /><line x1="248.43" y1="313.60" x2="248.43" y2="312.00" stroke="#777" stroke-width="0.7" /><line x1="270.24" y1="313.60" x2="270.24" y2="312.00" stroke="#777" stroke-width="0.7" /><line x1="292.06" y1="313.60" x2="292.06" y2="312.00" stroke="#777" stroke-width="0.7" /><line x1="313.87" y1="313.60" x2="313.87" y2="312.00" stroke="#777" stroke-width="0.7" /><line x1="335.69" y1="313.60" x2="335.69" y2="312.00" stroke="#777" stroke-width="0.7" /><line x1="357.50" y1="313.60" x2="357.50" y2="312.00" stroke="#777" stroke-width="0.7" /><text x="282.60" y="334.00" font-size="9.5" fill="#333" text-anchor="middle" font-weight="normal" >Thickness (nm)</text><text x="0.00" y="0.00" font-size="9" fill="#333" text-anchor="middle" font-weight="normal" transform="translate(189.4,285.7) rotate(-90)">λ<tspan font-size="6" dy="1.5">p</tspan><tspan dy="-1.5"> (μm)</tspan></text><line x1="218.00" y1="265.30" x2="227.30" y2="265.30" stroke="#e8242c" stroke-width="1.3" /><line x1="218.00" y1="268.00" x2="227.30" y2="268.00" stroke="#f07078" stroke-width="0.6" stroke-dasharray="2,1"/><text x="229.60" y="268.00" font-size="6.8" fill="#333" text-anchor="start" font-weight="normal" >Theory (PbI<tspan font-size="4.5" dy="1">2</tspan><tspan dy="-1">/Si)</tspan></text><circle cx="222.5" cy="274.6" r="2.8" fill="#fff" stroke="#444" stroke-width="0.7"/><text x="229.60" y="277.00" font-size="6.8" fill="#333" text-anchor="start" font-weight="normal" >Experiment</text><text x="318.80" y="278.00" font-size="6.6" fill="#555" text-anchor="start" font-weight="normal" >M<tspan font-size="4.5" dy="1">0</tspan></text><text x="1.00" y="10.90" font-size="14.5" fill="#111" text-anchor="start" font-weight="bold" >a</text><text x="191.90" y="10.90" font-size="14.5" fill="#111" text-anchor="start" font-weight="bold" >b</text><text x="374.00" y="10.90" font-size="14.5" fill="#111" text-anchor="start" font-weight="bold" >c</text><text x="1.00" y="126.60" font-size="14.5" fill="#111" text-anchor="start" font-weight="bold" >d</text><text x="191.90" y="127.00" font-size="14.5" fill="#111" text-anchor="start" font-weight="bold" >e</text><text x="192.00" y="253.40" font-size="14.5" fill="#111" text-anchor="start" font-weight="bold" >f</text></svg>
</body></html>
